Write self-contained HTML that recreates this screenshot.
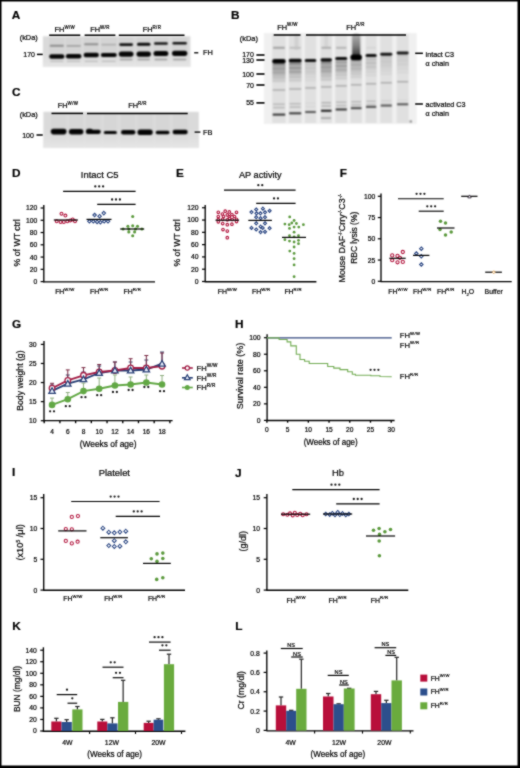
<!DOCTYPE html>
<html><head><meta charset="utf-8"><style>
html,body{margin:0;padding:0;background:#fff;}
svg{display:block;font-family:"Liberation Sans",sans-serif;}
text{stroke:#000;stroke-width:0.2px;}
</style></head><body>
<svg width="520" height="768" viewBox="0 0 520 768">
<defs>
<filter id="bg" color-interpolation-filters="sRGB" filterUnits="userSpaceOnUse" x="0" y="0" width="520" height="160"><feConvolveMatrix order="3" kernelMatrix="1 2 1 2 4 2 1 2 1" divisor="16" edgeMode="duplicate"/></filter>
<filter id="soft" color-interpolation-filters="sRGB" filterUnits="userSpaceOnUse" x="0" y="0" width="520" height="768"><feConvolveMatrix order="3" kernelMatrix="1 2 1 2 12 2 1 2 1" divisor="24" edgeMode="duplicate"/></filter>
<filter id="bgB" color-interpolation-filters="sRGB" filterUnits="userSpaceOnUse" x="0" y="0" width="520" height="160"><feConvolveMatrix order="3" kernelMatrix="1 2 1 2 4 2 1 2 1" divisor="16" edgeMode="duplicate"/></filter>
<filter id="b1" x="-20%" y="-50%" width="140%" height="200%"><feGaussianBlur stdDeviation="0.7"/></filter>
<filter id="b2" x="-20%" y="-50%" width="140%" height="200%"><feGaussianBlur stdDeviation="1.2"/></filter>
<filter id="b3" x="-50%" y="-50%" width="200%" height="200%"><feGaussianBlur stdDeviation="2"/></filter>
<linearGradient id="smg" x1="0" y1="0" x2="0" y2="1"><stop offset="0" stop-color="#b0b0b0"/><stop offset="0.5" stop-color="#808080"/><stop offset="1" stop-color="#303030"/></linearGradient>
<linearGradient id="lg1" x1="0" y1="0" x2="0" y2="1"><stop offset="0" stop-color="#e2e2e2" stop-opacity="0"/><stop offset="1" stop-color="#e6e6e6" stop-opacity="1"/></linearGradient>
</defs>
<g filter="url(#soft)">
<rect width="520" height="768" fill="#fff"/>
<rect x="0.75" y="0.75" width="517.5" height="765.5" fill="none" stroke="#000" stroke-width="1.5"/>
<rect x="518" y="0" width="2" height="768" fill="#000"/>
<rect x="0" y="766" width="520" height="2" fill="#000"/>
<text transform="translate(11.70,18.90) scale(1,1.0)" font-size="11.8" text-anchor="start" font-weight="bold" fill="#000" >A</text>
<text transform="translate(231.00,19.10) scale(1,1.0)" font-size="11.8" text-anchor="start" font-weight="bold" fill="#000" >B</text>
<text transform="translate(12.00,95.50) scale(1,1.0)" font-size="11.8" text-anchor="start" font-weight="bold" fill="#000" >C</text>
<text transform="translate(12.00,177.30) scale(1,1.0)" font-size="11.8" text-anchor="start" font-weight="bold" fill="#000" >D</text>
<text transform="translate(176.10,176.90) scale(1,1.0)" font-size="11.8" text-anchor="start" font-weight="bold" fill="#000" >E</text>
<text transform="translate(339.80,176.80) scale(1,1.0)" font-size="11.8" text-anchor="start" font-weight="bold" fill="#000" >F</text>
<text transform="translate(12.10,327.80) scale(1,1.0)" font-size="11.8" text-anchor="start" font-weight="bold" fill="#000" >G</text>
<text transform="translate(235.10,327.80) scale(1,1.0)" font-size="11.8" text-anchor="start" font-weight="bold" fill="#000" >H</text>
<text transform="translate(12.00,476.40) scale(1,1.0)" font-size="11.8" text-anchor="start" font-weight="bold" fill="#000" >I</text>
<text transform="translate(234.90,476.50) scale(1,1.0)" font-size="11.8" text-anchor="start" font-weight="bold" fill="#000" >J</text>
<text transform="translate(12.20,629.70) scale(1,1.0)" font-size="11.8" text-anchor="start" font-weight="bold" fill="#000" >K</text>
<text transform="translate(235.20,629.70) scale(1,1.0)" font-size="11.8" text-anchor="start" font-weight="bold" fill="#000" >L</text>
<g filter="url(#bg)">
<rect x="42.90" y="36.30" width="147.50" height="30.70" fill="#dadada" />
<rect x="49.20" y="37.00" width="15.20" height="29.50" fill="#d4d4d4" />
<rect x="65.90" y="37.00" width="15.50" height="29.50" fill="#d4d4d4" />
<rect x="83.60" y="37.00" width="15.30" height="29.50" fill="#d4d4d4" />
<rect x="100.80" y="37.00" width="16.00" height="29.50" fill="#d4d4d4" />
<rect x="118.80" y="37.00" width="14.70" height="29.50" fill="#d4d4d4" />
<rect x="136.50" y="37.00" width="14.40" height="29.50" fill="#d4d4d4" />
<rect x="153.50" y="37.00" width="14.80" height="29.50" fill="#d4d4d4" />
<rect x="172.00" y="37.00" width="15.30" height="29.50" fill="#d4d4d4" />
<rect x="42.9" y="50" width="147.5" height="17" fill="url(#lg1)"/>
<rect x="49.70" y="44.80" width="14.20" height="2.00" rx="1.00" fill="#8c8c8c"/>
<rect x="66.40" y="44.90" width="14.50" height="1.80" rx="0.90" fill="#a2a2a2"/>
<rect x="84.10" y="43.30" width="14.30" height="2.00" rx="1.00" fill="#8e8e8e"/>
<rect x="101.30" y="43.70" width="15.00" height="1.80" rx="0.90" fill="#b0b0b0"/>
<rect x="119.30" y="43.30" width="13.70" height="2.60" rx="1.30" fill="#101010"/>
<rect x="137.00" y="42.70" width="13.40" height="3.00" rx="1.50" fill="#0a0a0a"/>
<rect x="154.00" y="42.25" width="13.80" height="2.50" rx="1.25" fill="#141414"/>
<rect x="172.50" y="41.95" width="14.30" height="2.50" rx="1.25" fill="#121212"/>
<rect x="49.20" y="54.20" width="15.20" height="4.60" rx="2.30" fill="#040404"/>
<rect x="65.90" y="54.10" width="15.50" height="4.40" rx="2.20" fill="#040404"/>
<rect x="83.60" y="52.70" width="15.30" height="4.60" rx="2.30" fill="#040404"/>
<rect x="100.80" y="52.90" width="16.00" height="4.20" rx="2.10" fill="#040404"/>
<rect x="118.80" y="51.40" width="14.70" height="5.40" rx="2.70" fill="#040404"/>
<rect x="136.50" y="51.40" width="14.40" height="5.40" rx="2.70" fill="#040404"/>
<rect x="153.50" y="51.10" width="14.80" height="5.00" rx="2.50" fill="#040404"/>
<rect x="172.00" y="50.70" width="15.30" height="5.20" rx="2.60" fill="#040404"/>
<rect x="50.20" y="60.70" width="13.20" height="1.20" rx="0.60" fill="#bdbdbd"/>
<rect x="66.90" y="60.70" width="13.50" height="1.20" rx="0.60" fill="#bdbdbd"/>
<rect x="84.60" y="60.70" width="13.30" height="1.20" rx="0.60" fill="#bdbdbd"/>
<rect x="101.80" y="60.70" width="14.00" height="1.20" rx="0.60" fill="#bdbdbd"/>
<rect x="119.80" y="58.85" width="12.70" height="1.50" rx="0.75" fill="#9a9a9a"/>
<rect x="137.50" y="58.85" width="12.40" height="1.50" rx="0.75" fill="#9a9a9a"/>
<rect x="154.50" y="58.85" width="12.80" height="1.50" rx="0.75" fill="#9a9a9a"/>
<rect x="173.00" y="58.85" width="13.30" height="1.50" rx="0.75" fill="#9a9a9a"/>
</g>
<text transform="translate(64.80,32.16) scale(1,1.03)" font-size="7.4" text-anchor="middle">FH<tspan font-size="4.44" dy="-3.33" letter-spacing="0.35">W/W</tspan></text>
<line x1="49.20" y1="35.20" x2="80.30" y2="35.20" stroke="#000" stroke-width="1.5" />
<text transform="translate(100.00,32.16) scale(1,1.03)" font-size="7.4" text-anchor="middle">FH<tspan font-size="4.44" dy="-3.33" letter-spacing="0.35">W/R</tspan></text>
<line x1="84.60" y1="35.20" x2="115.40" y2="35.20" stroke="#000" stroke-width="1.5" />
<text transform="translate(152.00,32.16) scale(1,1.03)" font-size="7.4" text-anchor="middle">FH<tspan font-size="4.44" dy="-3.33" letter-spacing="0.35">R/R</tspan></text>
<line x1="118.80" y1="35.20" x2="184.50" y2="35.20" stroke="#000" stroke-width="1.5" />
<text transform="translate(19.70,40.06) scale(1,1.03)" font-size="7.4" text-anchor="start" fill="#000" >(kDa)</text>
<text transform="translate(35.00,57.12) scale(1,1.03)" font-size="7.0" text-anchor="end" fill="#000" >170</text>
<line x1="36.90" y1="54.40" x2="42.70" y2="54.40" stroke="#000" stroke-width="1.5" />
<line x1="194.20" y1="52.80" x2="198.30" y2="52.80" stroke="#000" stroke-width="1.3" />
<text transform="translate(203.00,55.46) scale(1,1.03)" font-size="7.4" text-anchor="start" fill="#000" >FH</text>
<g filter="url(#bg)">
<rect x="43.40" y="111.80" width="155.40" height="36.00" fill="#dadada" />
<rect x="50.80" y="113.00" width="15.70" height="34.00" fill="#d6d6d6" />
<rect x="68.90" y="113.00" width="14.50" height="34.00" fill="#d6d6d6" />
<rect x="85.80" y="113.00" width="15.00" height="34.00" fill="#d6d6d6" />
<rect x="103.80" y="113.00" width="13.10" height="34.00" fill="#d6d6d6" />
<rect x="121.00" y="113.00" width="14.40" height="34.00" fill="#d6d6d6" />
<rect x="137.50" y="113.00" width="15.20" height="34.00" fill="#d6d6d6" />
<rect x="155.70" y="113.00" width="13.80" height="34.00" fill="#d6d6d6" />
<rect x="172.60" y="113.00" width="15.10" height="34.00" fill="#d6d6d6" />
<rect x="43.4" y="128" width="155.4" height="20" fill="url(#lg1)"/>
<rect x="50.80" y="128.80" width="15.70" height="5.60" rx="2.80" fill="#030303"/>
<rect x="68.90" y="129.00" width="14.50" height="5.40" rx="2.70" fill="#030303"/>
<rect x="85.80" y="129.70" width="15.00" height="4.20" rx="2.10" fill="#030303"/>
<rect x="103.80" y="130.90" width="13.10" height="3.20" rx="1.60" fill="#030303"/>
<rect x="121.00" y="130.00" width="14.40" height="4.60" rx="2.30" fill="#030303"/>
<rect x="137.50" y="129.50" width="15.20" height="5.60" rx="2.80" fill="#030303"/>
<rect x="155.70" y="130.70" width="13.80" height="3.60" rx="1.80" fill="#030303"/>
<rect x="172.60" y="129.80" width="15.10" height="4.40" rx="2.20" fill="#030303"/>
<rect x="86.00" y="128.80" width="7.00" height="5.00" rx="2.50" fill="#030303"/>
</g>
<text transform="translate(68.00,108.16) scale(1,1.03)" font-size="7.4" text-anchor="middle">FH<tspan font-size="4.44" dy="-3.33" letter-spacing="0.35">W/W</tspan></text>
<line x1="51.50" y1="113.40" x2="83.00" y2="113.40" stroke="#000" stroke-width="1.5" />
<text transform="translate(137.50,108.16) scale(1,1.03)" font-size="7.4" text-anchor="middle">FH<tspan font-size="4.44" dy="-3.33" letter-spacing="0.35">R/R</tspan></text>
<line x1="87.00" y1="113.50" x2="187.70" y2="113.50" stroke="#000" stroke-width="1.5" />
<text transform="translate(19.70,117.06) scale(1,1.03)" font-size="7.4" text-anchor="start" fill="#000" >(kDa)</text>
<text transform="translate(33.80,137.52) scale(1,1.03)" font-size="7.0" text-anchor="end" fill="#000" >100</text>
<line x1="36.50" y1="135.00" x2="42.70" y2="135.00" stroke="#000" stroke-width="1.5" />
<line x1="194.60" y1="132.10" x2="200.40" y2="132.10" stroke="#000" stroke-width="1.3" />
<text transform="translate(203.00,134.76) scale(1,1.03)" font-size="7.4" text-anchor="start" fill="#000" >FB</text>
<g filter="url(#bgB)">
<rect x="263.80" y="33.00" width="152.80" height="91.00" fill="#f0f0f0" />
<rect x="272.20" y="34.00" width="13.50" height="89.00" fill="#e0e0e0" />
<rect x="288.70" y="34.00" width="13.00" height="89.00" fill="#e0e0e0" />
<rect x="304.70" y="34.00" width="11.60" height="89.00" fill="#e0e0e0" />
<rect x="320.50" y="34.00" width="11.50" height="89.00" fill="#e0e0e0" />
<rect x="335.20" y="34.00" width="12.10" height="89.00" fill="#e0e0e0" />
<rect x="350.40" y="34.00" width="11.60" height="89.00" fill="#e0e0e0" />
<rect x="365.50" y="34.00" width="11.20" height="89.00" fill="#e0e0e0" />
<rect x="380.20" y="34.00" width="12.10" height="89.00" fill="#e0e0e0" />
<rect x="396.60" y="34.00" width="12.10" height="89.00" fill="#e0e0e0" />
<rect x="272.50" y="63.40" width="12.90" height="2.20" fill="rgb(137,137,137)" />
<rect x="272.50" y="65.80" width="12.90" height="1.60" fill="rgb(159,159,159)" />
<rect x="272.50" y="67.60" width="12.90" height="2.00" fill="rgb(142,142,142)" />
<rect x="272.50" y="69.80" width="12.90" height="1.60" fill="rgb(163,163,163)" />
<rect x="272.50" y="71.60" width="12.90" height="2.00" fill="rgb(155,155,155)" />
<rect x="272.50" y="73.80" width="12.90" height="2.00" fill="rgb(180,180,180)" />
<rect x="272.50" y="76.20" width="12.90" height="2.50" fill="rgb(189,189,189)" />
<rect x="272.50" y="79.20" width="12.90" height="3.00" fill="rgb(202,202,202)" />
<rect x="289.00" y="62.90" width="12.40" height="2.20" fill="rgb(143,143,143)" />
<rect x="289.00" y="65.30" width="12.40" height="1.60" fill="rgb(163,163,163)" />
<rect x="289.00" y="67.10" width="12.40" height="2.00" fill="rgb(147,147,147)" />
<rect x="289.00" y="69.30" width="12.40" height="1.60" fill="rgb(167,167,167)" />
<rect x="289.00" y="71.10" width="12.40" height="2.00" fill="rgb(159,159,159)" />
<rect x="289.00" y="73.30" width="12.40" height="2.00" fill="rgb(183,183,183)" />
<rect x="289.00" y="75.70" width="12.40" height="2.50" fill="rgb(191,191,191)" />
<rect x="289.00" y="78.70" width="12.40" height="3.00" fill="rgb(203,203,203)" />
<rect x="305.00" y="62.60" width="11.00" height="2.20" fill="rgb(195,195,195)" />
<rect x="305.00" y="65.00" width="11.00" height="1.60" fill="rgb(202,202,202)" />
<rect x="305.00" y="66.80" width="11.00" height="2.00" fill="rgb(196,196,196)" />
<rect x="305.00" y="69.00" width="11.00" height="1.60" fill="rgb(203,203,203)" />
<rect x="305.00" y="70.80" width="11.00" height="2.00" fill="rgb(201,201,201)" />
<rect x="305.00" y="73.00" width="11.00" height="2.00" fill="rgb(209,209,209)" />
<rect x="305.00" y="75.40" width="11.00" height="2.50" fill="rgb(212,212,212)" />
<rect x="305.00" y="78.40" width="11.00" height="3.00" fill="rgb(216,216,216)" />
<rect x="320.80" y="62.20" width="10.90" height="2.20" fill="rgb(137,137,137)" />
<rect x="320.80" y="64.60" width="10.90" height="1.60" fill="rgb(159,159,159)" />
<rect x="320.80" y="66.40" width="10.90" height="2.00" fill="rgb(142,142,142)" />
<rect x="320.80" y="68.60" width="10.90" height="1.60" fill="rgb(163,163,163)" />
<rect x="320.80" y="70.40" width="10.90" height="2.00" fill="rgb(155,155,155)" />
<rect x="320.80" y="72.60" width="10.90" height="2.00" fill="rgb(180,180,180)" />
<rect x="320.80" y="75.00" width="10.90" height="2.50" fill="rgb(189,189,189)" />
<rect x="320.80" y="78.00" width="10.90" height="3.00" fill="rgb(202,202,202)" />
<rect x="335.50" y="60.70" width="11.50" height="2.20" fill="rgb(155,155,155)" />
<rect x="335.50" y="63.10" width="11.50" height="1.60" fill="rgb(172,172,172)" />
<rect x="335.50" y="64.90" width="11.50" height="2.00" fill="rgb(158,158,158)" />
<rect x="335.50" y="67.10" width="11.50" height="1.60" fill="rgb(175,175,175)" />
<rect x="335.50" y="68.90" width="11.50" height="2.00" fill="rgb(168,168,168)" />
<rect x="335.50" y="71.10" width="11.50" height="2.00" fill="rgb(189,189,189)" />
<rect x="335.50" y="73.50" width="11.50" height="2.50" fill="rgb(196,196,196)" />
<rect x="335.50" y="76.50" width="11.50" height="3.00" fill="rgb(206,206,206)" />
<rect x="350.70" y="59.50" width="11.00" height="2.20" fill="rgb(160,160,160)" />
<rect x="350.70" y="61.90" width="11.00" height="1.60" fill="rgb(176,176,176)" />
<rect x="350.70" y="63.70" width="11.00" height="2.00" fill="rgb(163,163,163)" />
<rect x="350.70" y="65.90" width="11.00" height="1.60" fill="rgb(179,179,179)" />
<rect x="350.70" y="67.70" width="11.00" height="2.00" fill="rgb(173,173,173)" />
<rect x="350.70" y="69.90" width="11.00" height="2.00" fill="rgb(192,192,192)" />
<rect x="350.70" y="72.30" width="11.00" height="2.50" fill="rgb(198,198,198)" />
<rect x="350.70" y="75.30" width="11.00" height="3.00" fill="rgb(208,208,208)" />
<rect x="365.80" y="57.80" width="10.60" height="2.20" fill="rgb(189,189,189)" />
<rect x="365.80" y="60.20" width="10.60" height="1.60" fill="rgb(198,198,198)" />
<rect x="365.80" y="62.00" width="10.60" height="2.00" fill="rgb(191,191,191)" />
<rect x="365.80" y="64.20" width="10.60" height="1.60" fill="rgb(199,199,199)" />
<rect x="365.80" y="66.00" width="10.60" height="2.00" fill="rgb(196,196,196)" />
<rect x="365.80" y="68.20" width="10.60" height="2.00" fill="rgb(206,206,206)" />
<rect x="365.80" y="70.60" width="10.60" height="2.50" fill="rgb(210,210,210)" />
<rect x="365.80" y="73.60" width="10.60" height="3.00" fill="rgb(215,215,215)" />
<rect x="380.50" y="56.40" width="11.50" height="2.20" fill="rgb(195,195,195)" />
<rect x="380.50" y="58.80" width="11.50" height="1.60" fill="rgb(202,202,202)" />
<rect x="380.50" y="60.60" width="11.50" height="2.00" fill="rgb(196,196,196)" />
<rect x="380.50" y="62.80" width="11.50" height="1.60" fill="rgb(203,203,203)" />
<rect x="380.50" y="64.60" width="11.50" height="2.00" fill="rgb(201,201,201)" />
<rect x="380.50" y="66.80" width="11.50" height="2.00" fill="rgb(209,209,209)" />
<rect x="380.50" y="69.20" width="11.50" height="2.50" fill="rgb(212,212,212)" />
<rect x="380.50" y="72.20" width="11.50" height="3.00" fill="rgb(216,216,216)" />
<rect x="396.90" y="55.20" width="11.50" height="2.20" fill="rgb(201,201,201)" />
<rect x="396.90" y="57.60" width="11.50" height="1.60" fill="rgb(206,206,206)" />
<rect x="396.90" y="59.40" width="11.50" height="2.00" fill="rgb(202,202,202)" />
<rect x="396.90" y="61.60" width="11.50" height="1.60" fill="rgb(207,207,207)" />
<rect x="396.90" y="63.40" width="11.50" height="2.00" fill="rgb(205,205,205)" />
<rect x="396.90" y="65.60" width="11.50" height="2.00" fill="rgb(212,212,212)" />
<rect x="396.90" y="68.00" width="11.50" height="2.50" fill="rgb(214,214,214)" />
<rect x="396.90" y="71.00" width="11.50" height="3.00" fill="rgb(218,218,218)" />
<rect x="352.2" y="33.5" width="8" height="24" rx="3" fill="url(#smg)"/>
<rect x="294.50" y="34.00" width="4.00" height="16.00" fill="#d0d0d0" />
<rect x="324.20" y="34.00" width="4.00" height="13.00" fill="#d4d4d4" />
<rect x="273.20" y="46.80" width="11.50" height="2.00" fill="rgb(162,162,162)" />
<rect x="289.70" y="46.80" width="11.00" height="2.00" fill="rgb(192,192,192)" />
<rect x="321.50" y="46.80" width="9.50" height="2.00" fill="rgb(174,174,174)" />
<rect x="336.20" y="46.80" width="10.10" height="2.00" fill="rgb(180,180,180)" />
<rect x="366.50" y="46.80" width="9.20" height="2.00" fill="rgb(213,213,213)" />
<rect x="272.20" y="58.90" width="13.50" height="4.60" rx="2.30" fill="#000"/>
<rect x="288.70" y="58.80" width="13.00" height="3.80" rx="1.90" fill="#080808"/>
<rect x="304.70" y="58.90" width="11.60" height="3.00" rx="1.50" fill="#101010"/>
<rect x="320.50" y="58.30" width="11.50" height="3.40" rx="1.70" fill="#0c0c0c"/>
<rect x="335.20" y="56.90" width="12.10" height="3.20" rx="1.60" fill="#0c0c0c"/>
<rect x="350.40" y="54.40" width="11.60" height="5.80" rx="2.90" fill="#000"/>
<rect x="365.50" y="54.10" width="11.20" height="3.00" rx="1.50" fill="#101010"/>
<rect x="380.20" y="52.75" width="12.10" height="2.90" rx="1.45" fill="#141414"/>
<rect x="396.60" y="51.60" width="12.10" height="2.80" rx="1.40" fill="#181818"/>
<rect x="272.70" y="89.30" width="12.50" height="1.40" fill="#a8a8a8" />
<rect x="289.20" y="88.26" width="12.00" height="1.40" fill="#a8a8a8" />
<rect x="305.20" y="87.22" width="10.60" height="1.40" fill="#a8a8a8" />
<rect x="321.00" y="86.19" width="10.50" height="1.40" fill="#a8a8a8" />
<rect x="335.70" y="85.15" width="11.10" height="1.40" fill="#a8a8a8" />
<rect x="350.90" y="84.11" width="10.60" height="1.40" fill="#a8a8a8" />
<rect x="366.00" y="83.08" width="10.20" height="1.40" fill="#a8a8a8" />
<rect x="380.70" y="82.04" width="11.10" height="1.40" fill="#a8a8a8" />
<rect x="397.10" y="81.00" width="11.10" height="1.40" fill="#a8a8a8" />
<rect x="273.20" y="103.50" width="11.50" height="1.50" fill="rgb(183,183,183)" />
<rect x="273.20" y="106.80" width="11.50" height="1.50" fill="rgb(183,183,183)" />
<rect x="289.70" y="103.00" width="11.00" height="1.50" fill="rgb(183,183,183)" />
<rect x="289.70" y="106.30" width="11.00" height="1.50" fill="rgb(183,183,183)" />
<rect x="305.70" y="102.50" width="9.60" height="1.50" fill="rgb(215,215,215)" />
<rect x="305.70" y="105.80" width="9.60" height="1.50" fill="rgb(215,215,215)" />
<rect x="321.50" y="102.00" width="9.50" height="1.50" fill="rgb(177,177,177)" />
<rect x="321.50" y="105.30" width="9.50" height="1.50" fill="rgb(177,177,177)" />
<rect x="336.20" y="101.50" width="10.10" height="1.50" fill="rgb(183,183,183)" />
<rect x="336.20" y="104.80" width="10.10" height="1.50" fill="rgb(183,183,183)" />
<rect x="351.40" y="101.00" width="9.60" height="1.50" fill="rgb(183,183,183)" />
<rect x="351.40" y="104.30" width="9.60" height="1.50" fill="rgb(183,183,183)" />
<rect x="366.50" y="100.50" width="9.20" height="1.50" fill="rgb(189,189,189)" />
<rect x="366.50" y="103.80" width="9.20" height="1.50" fill="rgb(189,189,189)" />
<rect x="381.20" y="100.00" width="10.10" height="1.50" fill="rgb(207,207,207)" />
<rect x="381.20" y="103.30" width="10.10" height="1.50" fill="rgb(207,207,207)" />
<rect x="397.60" y="99.50" width="10.10" height="1.50" fill="rgb(215,215,215)" />
<rect x="397.60" y="102.80" width="10.10" height="1.50" fill="rgb(215,215,215)" />
<rect x="272.70" y="113.65" width="12.50" height="1.90" fill="#2a2a2a" />
<rect x="289.20" y="112.36" width="12.00" height="1.90" fill="#303030" />
<rect x="305.20" y="111.07" width="10.60" height="1.90" fill="#505050" />
<rect x="321.00" y="109.79" width="10.50" height="1.90" fill="#101010" />
<rect x="335.70" y="108.50" width="11.10" height="1.90" fill="#2a2a2a" />
<rect x="350.90" y="107.21" width="10.60" height="1.90" fill="#404040" />
<rect x="366.00" y="105.92" width="10.20" height="1.90" fill="#484848" />
<rect x="380.70" y="104.64" width="11.10" height="1.90" fill="#505050" />
<rect x="397.10" y="103.35" width="11.10" height="1.90" fill="#505050" />
<rect x="321.00" y="117.30" width="10.00" height="1.50" fill="#a0a0a0" />
<rect x="409.50" y="120.50" width="2.50" height="2.00" fill="#888" />
</g>
<text transform="translate(287.50,29.66) scale(1,1.03)" font-size="7.4" text-anchor="middle">FH<tspan font-size="4.44" dy="-3.33" letter-spacing="0.35">W/W</tspan></text>
<line x1="273.70" y1="35.00" x2="300.50" y2="35.00" stroke="#000" stroke-width="1.5" />
<text transform="translate(355.50,29.66) scale(1,1.03)" font-size="7.4" text-anchor="middle">FH<tspan font-size="4.44" dy="-3.33" letter-spacing="0.35">R/R</tspan></text>
<line x1="306.00" y1="35.00" x2="406.00" y2="35.00" stroke="#000" stroke-width="1.5" />
<text transform="translate(239.80,41.26) scale(1,1.03)" font-size="7.4" text-anchor="start" fill="#000" >(kDa)</text>
<text transform="translate(253.90,56.92) scale(1,1.03)" font-size="7.0" text-anchor="end" fill="#000" >170</text>
<line x1="256.40" y1="55.00" x2="264.50" y2="55.00" stroke="#000" stroke-width="1.6" />
<text transform="translate(253.90,62.82) scale(1,1.03)" font-size="7.0" text-anchor="end" fill="#000" >130</text>
<line x1="256.40" y1="60.00" x2="264.50" y2="60.00" stroke="#000" stroke-width="1.6" />
<text transform="translate(253.90,76.52) scale(1,1.03)" font-size="7.0" text-anchor="end" fill="#000" >100</text>
<line x1="256.40" y1="74.00" x2="264.50" y2="74.00" stroke="#000" stroke-width="1.6" />
<text transform="translate(253.90,87.52) scale(1,1.03)" font-size="7.0" text-anchor="end" fill="#000" >70</text>
<line x1="256.40" y1="85.00" x2="264.50" y2="85.00" stroke="#000" stroke-width="1.6" />
<text transform="translate(253.90,105.42) scale(1,1.03)" font-size="7.0" text-anchor="end" fill="#000" >55</text>
<line x1="256.40" y1="102.90" x2="264.50" y2="102.90" stroke="#000" stroke-width="1.6" />
<line x1="415.20" y1="53.30" x2="422.90" y2="53.30" stroke="#000" stroke-width="1.5" />
<text transform="translate(425.60,56.79) scale(1,1.03)" font-size="7.2" text-anchor="start" fill="#000" >intact C3</text>
<text transform="translate(425.60,66.09) scale(1,1.03)" font-size="7.2" text-anchor="start" fill="#000" >α chain</text>
<line x1="415.20" y1="104.00" x2="422.90" y2="104.00" stroke="#000" stroke-width="1.5" />
<text transform="translate(425.60,107.29) scale(1,1.03)" font-size="7.2" text-anchor="start" fill="#000" >activated C3</text>
<text transform="translate(425.60,116.19) scale(1,1.03)" font-size="7.2" text-anchor="start" fill="#000" >α chain</text>
<line x1="43.80" y1="205.00" x2="43.80" y2="282.20" stroke="#000" stroke-width="1.35" />
<line x1="40.60" y1="281.60" x2="43.80" y2="281.60" stroke="#000" stroke-width="1.215" />
<text transform="translate(37.40,284.05) scale(1,1.03)" font-size="6.8" text-anchor="end" fill="#000" >0</text>
<line x1="40.60" y1="269.33" x2="43.80" y2="269.33" stroke="#000" stroke-width="1.215" />
<text transform="translate(37.40,271.78) scale(1,1.03)" font-size="6.8" text-anchor="end" fill="#000" >20</text>
<line x1="40.60" y1="257.07" x2="43.80" y2="257.07" stroke="#000" stroke-width="1.215" />
<text transform="translate(37.40,259.51) scale(1,1.03)" font-size="6.8" text-anchor="end" fill="#000" >40</text>
<line x1="40.60" y1="244.80" x2="43.80" y2="244.80" stroke="#000" stroke-width="1.215" />
<text transform="translate(37.40,247.25) scale(1,1.03)" font-size="6.8" text-anchor="end" fill="#000" >60</text>
<line x1="40.60" y1="232.53" x2="43.80" y2="232.53" stroke="#000" stroke-width="1.215" />
<text transform="translate(37.40,234.98) scale(1,1.03)" font-size="6.8" text-anchor="end" fill="#000" >80</text>
<line x1="40.60" y1="220.27" x2="43.80" y2="220.27" stroke="#000" stroke-width="1.215" />
<text transform="translate(37.40,222.71) scale(1,1.03)" font-size="6.8" text-anchor="end" fill="#000" >100</text>
<line x1="40.60" y1="208.00" x2="43.80" y2="208.00" stroke="#000" stroke-width="1.215" />
<text transform="translate(37.40,210.45) scale(1,1.03)" font-size="6.8" text-anchor="end" fill="#000" >120</text>
<line x1="43.20" y1="281.80" x2="155.00" y2="281.80" stroke="#000" stroke-width="1.35" />
<text transform="translate(99.60,177.58) scale(1,1.03)" font-size="9.4" text-anchor="middle" fill="#000" >Intact C5</text>
<line x1="63.10" y1="191.30" x2="135.60" y2="191.30" stroke="#000" stroke-width="1.15" />
<circle cx="95.30" cy="186.40" r="1.15" fill="#1a1a1a"/>
<circle cx="99.20" cy="186.40" r="1.15" fill="#1a1a1a"/>
<circle cx="103.10" cy="186.40" r="1.15" fill="#1a1a1a"/>
<line x1="97.20" y1="204.40" x2="135.60" y2="204.40" stroke="#000" stroke-width="1.15" />
<circle cx="112.10" cy="199.50" r="1.15" fill="#1a1a1a"/>
<circle cx="116.00" cy="199.50" r="1.15" fill="#1a1a1a"/>
<circle cx="119.90" cy="199.50" r="1.15" fill="#1a1a1a"/>
<text transform="translate(16.70,242.80) rotate(-90) scale(1,1.03)" x="0" y="3.13" font-size="8.7" text-anchor="middle" fill="#000">% of WT ctrl</text>
<text transform="translate(64.90,294.48) scale(1,1.03)" font-size="6.9" text-anchor="middle">FH<tspan font-size="4.28" dy="-3.11" letter-spacing="0.35">W/W</tspan></text>
<text transform="translate(99.20,294.48) scale(1,1.03)" font-size="6.9" text-anchor="middle">FH<tspan font-size="4.28" dy="-3.11" letter-spacing="0.35">W/R</tspan></text>
<text transform="translate(132.40,294.48) scale(1,1.03)" font-size="6.9" text-anchor="middle">FH<tspan font-size="4.28" dy="-3.11" letter-spacing="0.35">R/R</tspan></text>
<circle cx="61.50" cy="213.70" r="1.45" fill="#fff" stroke="#b3173f" stroke-width="1.1"/>
<circle cx="65.40" cy="215.60" r="1.45" fill="#fff" stroke="#b3173f" stroke-width="1.1"/>
<circle cx="56.70" cy="221.30" r="1.45" fill="#fff" stroke="#b3173f" stroke-width="1.1"/>
<circle cx="60.60" cy="221.90" r="1.45" fill="#fff" stroke="#b3173f" stroke-width="1.1"/>
<circle cx="63.80" cy="221.90" r="1.45" fill="#fff" stroke="#b3173f" stroke-width="1.1"/>
<circle cx="67.30" cy="221.30" r="1.45" fill="#fff" stroke="#b3173f" stroke-width="1.1"/>
<circle cx="70.20" cy="220.40" r="1.45" fill="#fff" stroke="#b3173f" stroke-width="1.1"/>
<circle cx="72.70" cy="219.40" r="1.45" fill="#fff" stroke="#b3173f" stroke-width="1.1"/>
<circle cx="75.00" cy="221.30" r="1.45" fill="#fff" stroke="#b3173f" stroke-width="1.1"/>
<line x1="53.80" y1="220.00" x2="77.90" y2="220.00" stroke="#000" stroke-width="1.2" />
<path d="M94.60 213.25L96.35 215.00L94.60 216.75L92.85 215.00Z" fill="#fff" stroke="#2f4a85" stroke-width="1.1"/>
<path d="M99.60 214.45L101.35 216.20L99.60 217.95L97.85 216.20Z" fill="#fff" stroke="#2f4a85" stroke-width="1.1"/>
<path d="M103.80 211.35L105.55 213.10L103.80 214.85L102.05 213.10Z" fill="#fff" stroke="#2f4a85" stroke-width="1.1"/>
<path d="M89.40 219.55L91.15 221.30L89.40 223.05L87.65 221.30Z" fill="#fff" stroke="#2f4a85" stroke-width="1.1"/>
<path d="M93.30 219.55L95.05 221.30L93.30 223.05L91.55 221.30Z" fill="#fff" stroke="#2f4a85" stroke-width="1.1"/>
<path d="M97.10 220.15L98.85 221.90L97.10 223.65L95.35 221.90Z" fill="#fff" stroke="#2f4a85" stroke-width="1.1"/>
<path d="M100.40 220.55L102.15 222.30L100.40 224.05L98.65 222.30Z" fill="#fff" stroke="#2f4a85" stroke-width="1.1"/>
<path d="M104.20 219.55L105.95 221.30L104.20 223.05L102.45 221.30Z" fill="#fff" stroke="#2f4a85" stroke-width="1.1"/>
<path d="M108.00 219.55L109.75 221.30L108.00 223.05L106.25 221.30Z" fill="#fff" stroke="#2f4a85" stroke-width="1.1"/>
<line x1="86.50" y1="219.40" x2="111.50" y2="219.40" stroke="#000" stroke-width="1.2" />
<circle cx="132.70" cy="216.50" r="1.55" fill="#5c9a3e"/>
<circle cx="127.90" cy="226.20" r="1.55" fill="#5c9a3e"/>
<circle cx="132.70" cy="225.80" r="1.55" fill="#5c9a3e"/>
<circle cx="137.50" cy="226.20" r="1.55" fill="#5c9a3e"/>
<circle cx="123.10" cy="229.00" r="1.55" fill="#5c9a3e"/>
<circle cx="128.80" cy="229.00" r="1.55" fill="#5c9a3e"/>
<circle cx="135.60" cy="229.00" r="1.55" fill="#5c9a3e"/>
<circle cx="141.90" cy="229.00" r="1.55" fill="#5c9a3e"/>
<circle cx="128.80" cy="231.90" r="1.55" fill="#5c9a3e"/>
<circle cx="134.60" cy="231.90" r="1.55" fill="#5c9a3e"/>
<circle cx="132.70" cy="235.80" r="1.55" fill="#5c9a3e"/>
<line x1="120.20" y1="229.00" x2="144.20" y2="229.00" stroke="#000" stroke-width="1.2" />
<line x1="205.20" y1="205.00" x2="205.20" y2="282.10" stroke="#000" stroke-width="1.35" />
<line x1="202.00" y1="281.50" x2="205.20" y2="281.50" stroke="#000" stroke-width="1.215" />
<text transform="translate(198.50,283.95) scale(1,1.03)" font-size="6.8" text-anchor="end" fill="#000" >0</text>
<line x1="202.00" y1="269.21" x2="205.20" y2="269.21" stroke="#000" stroke-width="1.215" />
<text transform="translate(198.50,271.66) scale(1,1.03)" font-size="6.8" text-anchor="end" fill="#000" >20</text>
<line x1="202.00" y1="256.92" x2="205.20" y2="256.92" stroke="#000" stroke-width="1.215" />
<text transform="translate(198.50,259.36) scale(1,1.03)" font-size="6.8" text-anchor="end" fill="#000" >40</text>
<line x1="202.00" y1="244.62" x2="205.20" y2="244.62" stroke="#000" stroke-width="1.215" />
<text transform="translate(198.50,247.07) scale(1,1.03)" font-size="6.8" text-anchor="end" fill="#000" >60</text>
<line x1="202.00" y1="232.33" x2="205.20" y2="232.33" stroke="#000" stroke-width="1.215" />
<text transform="translate(198.50,234.78) scale(1,1.03)" font-size="6.8" text-anchor="end" fill="#000" >80</text>
<line x1="202.00" y1="220.04" x2="205.20" y2="220.04" stroke="#000" stroke-width="1.215" />
<text transform="translate(198.50,222.49) scale(1,1.03)" font-size="6.8" text-anchor="end" fill="#000" >100</text>
<line x1="202.00" y1="207.75" x2="205.20" y2="207.75" stroke="#000" stroke-width="1.215" />
<text transform="translate(198.50,210.20) scale(1,1.03)" font-size="6.8" text-anchor="end" fill="#000" >120</text>
<line x1="204.60" y1="281.70" x2="316.40" y2="281.70" stroke="#000" stroke-width="1.35" />
<text transform="translate(260.30,178.01) scale(1,1.03)" font-size="9.2" text-anchor="middle" fill="#000" >AP activity</text>
<line x1="224.00" y1="190.10" x2="295.60" y2="190.10" stroke="#000" stroke-width="1.15" />
<circle cx="258.35" cy="185.20" r="1.15" fill="#1a1a1a"/>
<circle cx="262.25" cy="185.20" r="1.15" fill="#1a1a1a"/>
<line x1="256.20" y1="203.30" x2="295.60" y2="203.30" stroke="#000" stroke-width="1.15" />
<circle cx="274.05" cy="198.40" r="1.15" fill="#1a1a1a"/>
<circle cx="277.95" cy="198.40" r="1.15" fill="#1a1a1a"/>
<text transform="translate(176.80,243.00) rotate(-90) scale(1,1.03)" x="0" y="3.13" font-size="8.7" text-anchor="middle" fill="#000">% of WT ctrl</text>
<text transform="translate(227.50,294.38) scale(1,1.03)" font-size="6.9" text-anchor="middle">FH<tspan font-size="4.28" dy="-3.11" letter-spacing="0.35">W/W</tspan></text>
<text transform="translate(261.20,294.38) scale(1,1.03)" font-size="6.9" text-anchor="middle">FH<tspan font-size="4.28" dy="-3.11" letter-spacing="0.35">W/R</tspan></text>
<text transform="translate(293.20,294.38) scale(1,1.03)" font-size="6.9" text-anchor="middle">FH<tspan font-size="4.28" dy="-3.11" letter-spacing="0.35">R/R</tspan></text>
<circle cx="218.30" cy="212.30" r="1.3" fill="#fff" stroke="#b3173f" stroke-width="1.1"/>
<circle cx="225.20" cy="211.20" r="1.3" fill="#fff" stroke="#b3173f" stroke-width="1.1"/>
<circle cx="229.30" cy="211.90" r="1.3" fill="#fff" stroke="#b3173f" stroke-width="1.1"/>
<circle cx="236.50" cy="212.30" r="1.3" fill="#fff" stroke="#b3173f" stroke-width="1.1"/>
<circle cx="222.40" cy="214.10" r="1.3" fill="#fff" stroke="#b3173f" stroke-width="1.1"/>
<circle cx="227.30" cy="214.90" r="1.3" fill="#fff" stroke="#b3173f" stroke-width="1.1"/>
<circle cx="231.90" cy="214.60" r="1.3" fill="#fff" stroke="#b3173f" stroke-width="1.1"/>
<circle cx="218.30" cy="216.50" r="1.3" fill="#fff" stroke="#b3173f" stroke-width="1.1"/>
<circle cx="223.50" cy="216.50" r="1.3" fill="#fff" stroke="#b3173f" stroke-width="1.1"/>
<circle cx="229.30" cy="216.70" r="1.3" fill="#fff" stroke="#b3173f" stroke-width="1.1"/>
<circle cx="234.50" cy="216.50" r="1.3" fill="#fff" stroke="#b3173f" stroke-width="1.1"/>
<circle cx="218.30" cy="219.50" r="1.3" fill="#fff" stroke="#b3173f" stroke-width="1.1"/>
<circle cx="222.70" cy="219.30" r="1.3" fill="#fff" stroke="#b3173f" stroke-width="1.1"/>
<circle cx="227.30" cy="219.80" r="1.3" fill="#fff" stroke="#b3173f" stroke-width="1.1"/>
<circle cx="229.60" cy="218.40" r="1.3" fill="#fff" stroke="#b3173f" stroke-width="1.1"/>
<circle cx="232.20" cy="219.50" r="1.3" fill="#fff" stroke="#b3173f" stroke-width="1.1"/>
<circle cx="236.50" cy="219.30" r="1.3" fill="#fff" stroke="#b3173f" stroke-width="1.1"/>
<circle cx="218.30" cy="221.80" r="1.3" fill="#fff" stroke="#b3173f" stroke-width="1.1"/>
<circle cx="222.70" cy="223.60" r="1.3" fill="#fff" stroke="#b3173f" stroke-width="1.1"/>
<circle cx="227.30" cy="224.70" r="1.3" fill="#fff" stroke="#b3173f" stroke-width="1.1"/>
<circle cx="231.90" cy="224.20" r="1.3" fill="#fff" stroke="#b3173f" stroke-width="1.1"/>
<circle cx="236.50" cy="221.60" r="1.3" fill="#fff" stroke="#b3173f" stroke-width="1.1"/>
<circle cx="223.00" cy="229.60" r="1.3" fill="#fff" stroke="#b3173f" stroke-width="1.1"/>
<circle cx="227.30" cy="231.10" r="1.3" fill="#fff" stroke="#b3173f" stroke-width="1.1"/>
<circle cx="227.30" cy="237.70" r="1.3" fill="#fff" stroke="#b3173f" stroke-width="1.1"/>
<line x1="215.50" y1="220.20" x2="239.10" y2="220.20" stroke="#000" stroke-width="1.2" />
<path d="M251.50 210.55L253.05 212.10L251.50 213.65L249.95 212.10Z" fill="#fff" stroke="#2f4a85" stroke-width="1.1"/>
<path d="M256.20 207.95L257.75 209.50L256.20 211.05L254.65 209.50Z" fill="#fff" stroke="#2f4a85" stroke-width="1.1"/>
<path d="M262.90 207.15L264.45 208.70L262.90 210.25L261.35 208.70Z" fill="#fff" stroke="#2f4a85" stroke-width="1.1"/>
<path d="M269.60 209.25L271.15 210.80L269.60 212.35L268.05 210.80Z" fill="#fff" stroke="#2f4a85" stroke-width="1.1"/>
<path d="M256.50 211.75L258.05 213.30L256.50 214.85L254.95 213.30Z" fill="#fff" stroke="#2f4a85" stroke-width="1.1"/>
<path d="M260.40 211.75L261.95 213.30L260.40 214.85L258.85 213.30Z" fill="#fff" stroke="#2f4a85" stroke-width="1.1"/>
<path d="M265.00 210.75L266.55 212.30L265.00 213.85L263.45 212.30Z" fill="#fff" stroke="#2f4a85" stroke-width="1.1"/>
<path d="M256.20 215.65L257.75 217.20L256.20 218.75L254.65 217.20Z" fill="#fff" stroke="#2f4a85" stroke-width="1.1"/>
<path d="M260.60 216.65L262.15 218.20L260.60 219.75L259.05 218.20Z" fill="#fff" stroke="#2f4a85" stroke-width="1.1"/>
<path d="M265.00 215.65L266.55 217.20L265.00 218.75L263.45 217.20Z" fill="#fff" stroke="#2f4a85" stroke-width="1.1"/>
<path d="M256.20 221.75L257.75 223.30L256.20 224.85L254.65 223.30Z" fill="#fff" stroke="#2f4a85" stroke-width="1.1"/>
<path d="M265.00 221.75L266.55 223.30L265.00 224.85L263.45 223.30Z" fill="#fff" stroke="#2f4a85" stroke-width="1.1"/>
<path d="M251.50 226.35L253.05 227.90L251.50 229.45L249.95 227.90Z" fill="#fff" stroke="#2f4a85" stroke-width="1.1"/>
<path d="M256.20 227.95L257.75 229.50L256.20 231.05L254.65 229.50Z" fill="#fff" stroke="#2f4a85" stroke-width="1.1"/>
<path d="M260.60 225.15L262.15 226.70L260.60 228.25L259.05 226.70Z" fill="#fff" stroke="#2f4a85" stroke-width="1.1"/>
<path d="M262.70 226.35L264.25 227.90L262.70 229.45L261.15 227.90Z" fill="#fff" stroke="#2f4a85" stroke-width="1.1"/>
<path d="M269.60 226.65L271.15 228.20L269.60 229.75L268.05 228.20Z" fill="#fff" stroke="#2f4a85" stroke-width="1.1"/>
<path d="M260.60 230.55L262.15 232.10L260.60 233.65L259.05 232.10Z" fill="#fff" stroke="#2f4a85" stroke-width="1.1"/>
<path d="M265.00 230.25L266.55 231.80L265.00 233.35L263.45 231.80Z" fill="#fff" stroke="#2f4a85" stroke-width="1.1"/>
<line x1="248.30" y1="220.40" x2="271.90" y2="220.40" stroke="#000" stroke-width="1.2" />
<circle cx="289.70" cy="216.90" r="1.4" fill="#5c9a3e"/>
<circle cx="294.10" cy="220.50" r="1.4" fill="#5c9a3e"/>
<circle cx="284.90" cy="224.10" r="1.4" fill="#5c9a3e"/>
<circle cx="289.20" cy="224.70" r="1.4" fill="#5c9a3e"/>
<circle cx="291.80" cy="223.00" r="1.4" fill="#5c9a3e"/>
<circle cx="296.40" cy="223.50" r="1.4" fill="#5c9a3e"/>
<circle cx="303.40" cy="224.70" r="1.4" fill="#5c9a3e"/>
<circle cx="289.50" cy="228.40" r="1.4" fill="#5c9a3e"/>
<circle cx="294.10" cy="227.10" r="1.4" fill="#5c9a3e"/>
<circle cx="298.80" cy="227.10" r="1.4" fill="#5c9a3e"/>
<circle cx="294.10" cy="232.20" r="1.4" fill="#5c9a3e"/>
<circle cx="289.50" cy="235.70" r="1.4" fill="#5c9a3e"/>
<circle cx="298.50" cy="235.70" r="1.4" fill="#5c9a3e"/>
<circle cx="284.90" cy="239.70" r="1.4" fill="#5c9a3e"/>
<circle cx="294.10" cy="236.80" r="1.4" fill="#5c9a3e"/>
<circle cx="289.50" cy="241.10" r="1.4" fill="#5c9a3e"/>
<circle cx="294.10" cy="242.00" r="1.4" fill="#5c9a3e"/>
<circle cx="298.50" cy="240.30" r="1.4" fill="#5c9a3e"/>
<circle cx="298.50" cy="243.70" r="1.4" fill="#5c9a3e"/>
<circle cx="294.10" cy="247.00" r="1.4" fill="#5c9a3e"/>
<circle cx="289.80" cy="251.10" r="1.4" fill="#5c9a3e"/>
<circle cx="294.10" cy="253.40" r="1.4" fill="#5c9a3e"/>
<circle cx="294.10" cy="258.70" r="1.4" fill="#5c9a3e"/>
<circle cx="294.10" cy="264.90" r="1.4" fill="#5c9a3e"/>
<circle cx="294.10" cy="276.70" r="1.4" fill="#5c9a3e"/>
<line x1="282.00" y1="237.40" x2="306.00" y2="237.40" stroke="#000" stroke-width="1.2" />
<line x1="381.00" y1="193.50" x2="381.00" y2="281.90" stroke="#000" stroke-width="1.35" />
<line x1="377.80" y1="281.30" x2="381.00" y2="281.30" stroke="#000" stroke-width="1.215" />
<text transform="translate(375.30,283.75) scale(1,1.03)" font-size="6.8" text-anchor="end" fill="#000" >0</text>
<line x1="377.80" y1="260.05" x2="381.00" y2="260.05" stroke="#000" stroke-width="1.215" />
<text transform="translate(375.30,262.50) scale(1,1.03)" font-size="6.8" text-anchor="end" fill="#000" >25</text>
<line x1="377.80" y1="238.80" x2="381.00" y2="238.80" stroke="#000" stroke-width="1.215" />
<text transform="translate(375.30,241.25) scale(1,1.03)" font-size="6.8" text-anchor="end" fill="#000" >50</text>
<line x1="377.80" y1="217.55" x2="381.00" y2="217.55" stroke="#000" stroke-width="1.215" />
<text transform="translate(375.30,220.00) scale(1,1.03)" font-size="6.8" text-anchor="end" fill="#000" >75</text>
<line x1="377.80" y1="196.30" x2="381.00" y2="196.30" stroke="#000" stroke-width="1.215" />
<text transform="translate(375.30,198.75) scale(1,1.03)" font-size="6.8" text-anchor="end" fill="#000" >100</text>
<line x1="380.40" y1="281.60" x2="511.70" y2="281.60" stroke="#000" stroke-width="1.35" />
<line x1="398.00" y1="198.70" x2="443.70" y2="198.70" stroke="#000" stroke-width="1.15" />
<circle cx="416.60" cy="193.80" r="1.15" fill="#1a1a1a"/>
<circle cx="420.50" cy="193.80" r="1.15" fill="#1a1a1a"/>
<circle cx="424.40" cy="193.80" r="1.15" fill="#1a1a1a"/>
<line x1="418.70" y1="211.20" x2="443.70" y2="211.20" stroke="#000" stroke-width="1.15" />
<circle cx="427.30" cy="206.30" r="1.15" fill="#1a1a1a"/>
<circle cx="431.20" cy="206.30" r="1.15" fill="#1a1a1a"/>
<circle cx="435.10" cy="206.30" r="1.15" fill="#1a1a1a"/>
<text transform="translate(341.40,238.10) rotate(-90) scale(1,1.03)" x="0" y="3.19" font-size="8.85" text-anchor="middle" fill="#000">Mouse DAF<tspan font-size="5" dy="-3">-/-</tspan><tspan dy="3">Crry</tspan><tspan font-size="5" dy="-3">-/-</tspan><tspan dy="3">C3</tspan><tspan font-size="5" dy="-3">-/-</tspan></text>
<text transform="translate(353.90,237.80) rotate(-90) scale(1,1.03)" x="0" y="3.04" font-size="8.45" text-anchor="middle" fill="#000">RBC lysis (%)</text>
<text transform="translate(398.10,293.98) scale(1,1.03)" font-size="6.9" text-anchor="middle">FH<tspan font-size="4.28" dy="-3.11" letter-spacing="0.35">W/W</tspan></text>
<text transform="translate(422.30,293.98) scale(1,1.03)" font-size="6.9" text-anchor="middle">FH<tspan font-size="4.28" dy="-3.11" letter-spacing="0.35">W/R</tspan></text>
<text transform="translate(445.90,293.98) scale(1,1.03)" font-size="6.9" text-anchor="middle">FH<tspan font-size="4.28" dy="-3.11" letter-spacing="0.35">R/R</tspan></text>
<text x="467.8" y="294.18" font-size="6.9" text-anchor="middle">H<tspan font-size="4.2" dy="1.6">2</tspan><tspan dy="-1.6">O</tspan></text>
<text transform="translate(493.70,294.18) scale(1,1.03)" font-size="6.9" text-anchor="middle" fill="#000" >Buffer</text>
<circle cx="392.20" cy="255.40" r="1.6" fill="#fff" stroke="#b3173f" stroke-width="1.1"/>
<circle cx="397.50" cy="255.90" r="1.6" fill="#fff" stroke="#b3173f" stroke-width="1.1"/>
<circle cx="399.90" cy="257.80" r="1.6" fill="#fff" stroke="#b3173f" stroke-width="1.1"/>
<circle cx="402.80" cy="252.00" r="1.6" fill="#fff" stroke="#b3173f" stroke-width="1.1"/>
<circle cx="392.20" cy="260.20" r="1.6" fill="#fff" stroke="#b3173f" stroke-width="1.1"/>
<circle cx="397.50" cy="262.30" r="1.6" fill="#fff" stroke="#b3173f" stroke-width="1.1"/>
<circle cx="402.80" cy="261.90" r="1.6" fill="#fff" stroke="#b3173f" stroke-width="1.1"/>
<line x1="389.30" y1="258.30" x2="405.70" y2="258.30" stroke="#000" stroke-width="1.2" />
<path d="M421.30 246.95L423.05 248.70L421.30 250.45L419.55 248.70Z" fill="#fff" stroke="#2f4a85" stroke-width="1.1"/>
<path d="M416.30 251.75L418.05 253.50L416.30 255.25L414.55 253.50Z" fill="#fff" stroke="#2f4a85" stroke-width="1.1"/>
<path d="M421.30 254.55L423.05 256.30L421.30 258.05L419.55 256.30Z" fill="#fff" stroke="#2f4a85" stroke-width="1.1"/>
<path d="M421.30 262.75L423.05 264.50L421.30 266.25L419.55 264.50Z" fill="#fff" stroke="#2f4a85" stroke-width="1.1"/>
<line x1="413.00" y1="255.40" x2="429.40" y2="255.40" stroke="#000" stroke-width="1.2" />
<circle cx="440.50" cy="221.20" r="1.75" fill="#5c9a3e"/>
<circle cx="445.50" cy="223.00" r="1.75" fill="#5c9a3e"/>
<circle cx="440.00" cy="229.50" r="1.75" fill="#5c9a3e"/>
<circle cx="451.20" cy="232.00" r="1.75" fill="#5c9a3e"/>
<circle cx="445.50" cy="235.00" r="1.75" fill="#5c9a3e"/>
<line x1="437.00" y1="228.00" x2="454.50" y2="228.00" stroke="#000" stroke-width="1.2" />
<line x1="461.20" y1="196.30" x2="477.50" y2="196.30" stroke="#000" stroke-width="1.2" />
<path d="M469.50 194.90L471.20 197.88L467.80 197.88Z" fill="#fff" stroke="#3a3040" stroke-width="0.9" stroke-linejoin="miter"/>
<line x1="485.20" y1="272.20" x2="501.90" y2="272.20" stroke="#000" stroke-width="1.2" />
<path d="M493.80 270.70L495.30 272.20L493.80 273.70L492.30 272.20Z" fill="#fff" stroke="#e0a050" stroke-width="0.9"/>
<line x1="44.00" y1="341.00" x2="44.00" y2="421.30" stroke="#000" stroke-width="1.35" />
<line x1="40.80" y1="420.70" x2="44.00" y2="420.70" stroke="#000" stroke-width="1.215" />
<text transform="translate(36.50,423.15) scale(1,1.03)" font-size="6.8" text-anchor="end" fill="#000" >10</text>
<line x1="40.80" y1="401.62" x2="44.00" y2="401.62" stroke="#000" stroke-width="1.215" />
<text transform="translate(36.50,404.07) scale(1,1.03)" font-size="6.8" text-anchor="end" fill="#000" >15</text>
<line x1="40.80" y1="382.55" x2="44.00" y2="382.55" stroke="#000" stroke-width="1.215" />
<text transform="translate(36.50,385.00) scale(1,1.03)" font-size="6.8" text-anchor="end" fill="#000" >20</text>
<line x1="40.80" y1="363.47" x2="44.00" y2="363.47" stroke="#000" stroke-width="1.215" />
<text transform="translate(36.50,365.92) scale(1,1.03)" font-size="6.8" text-anchor="end" fill="#000" >25</text>
<line x1="40.80" y1="344.40" x2="44.00" y2="344.40" stroke="#000" stroke-width="1.215" />
<text transform="translate(36.50,346.85) scale(1,1.03)" font-size="6.8" text-anchor="end" fill="#000" >30</text>
<line x1="43.40" y1="420.60" x2="172.60" y2="420.60" stroke="#000" stroke-width="1.35" />
<line x1="44.20" y1="420.70" x2="44.20" y2="423.20" stroke="#000" stroke-width="1.35" />
<line x1="59.91" y1="420.70" x2="59.91" y2="423.20" stroke="#000" stroke-width="1.35" />
<line x1="75.62" y1="420.70" x2="75.62" y2="423.20" stroke="#000" stroke-width="1.35" />
<line x1="91.34" y1="420.70" x2="91.34" y2="423.20" stroke="#000" stroke-width="1.35" />
<line x1="107.05" y1="420.70" x2="107.05" y2="423.20" stroke="#000" stroke-width="1.35" />
<line x1="122.76" y1="420.70" x2="122.76" y2="423.20" stroke="#000" stroke-width="1.35" />
<line x1="138.47" y1="420.70" x2="138.47" y2="423.20" stroke="#000" stroke-width="1.35" />
<line x1="154.18" y1="420.70" x2="154.18" y2="423.20" stroke="#000" stroke-width="1.35" />
<line x1="169.90" y1="420.70" x2="169.90" y2="423.20" stroke="#000" stroke-width="1.35" />
<text transform="translate(52.06,433.68) scale(1,1.03)" font-size="6.6" text-anchor="middle" fill="#000" >4</text>
<text transform="translate(67.77,433.68) scale(1,1.03)" font-size="6.6" text-anchor="middle" fill="#000" >6</text>
<text transform="translate(83.48,433.68) scale(1,1.03)" font-size="6.6" text-anchor="middle" fill="#000" >8</text>
<text transform="translate(99.19,433.68) scale(1,1.03)" font-size="6.6" text-anchor="middle" fill="#000" >10</text>
<text transform="translate(114.90,433.68) scale(1,1.03)" font-size="6.6" text-anchor="middle" fill="#000" >12</text>
<text transform="translate(130.62,433.68) scale(1,1.03)" font-size="6.6" text-anchor="middle" fill="#000" >14</text>
<text transform="translate(146.33,433.68) scale(1,1.03)" font-size="6.6" text-anchor="middle" fill="#000" >16</text>
<text transform="translate(162.04,433.68) scale(1,1.03)" font-size="6.6" text-anchor="middle" fill="#000" >18</text>
<text transform="translate(108.10,446.52) scale(1,1.03)" font-size="8.4" text-anchor="middle" fill="#000" >(Weeks of age)</text>
<text transform="translate(19.80,380.60) rotate(-90) scale(1,1.03)" x="0" y="3.13" font-size="8.7" text-anchor="middle" fill="#000">Body weight (g)</text>
<line x1="52.06" y1="404.90" x2="52.06" y2="398.10" stroke="#8fae80" stroke-width="1.0" />
<line x1="50.06" y1="398.10" x2="54.06" y2="398.10" stroke="#8fae80" stroke-width="1.0" />
<line x1="67.77" y1="399.20" x2="67.77" y2="392.50" stroke="#8fae80" stroke-width="1.0" />
<line x1="65.77" y1="392.50" x2="69.77" y2="392.50" stroke="#8fae80" stroke-width="1.0" />
<line x1="83.48" y1="391.10" x2="83.48" y2="383.10" stroke="#8fae80" stroke-width="1.0" />
<line x1="81.48" y1="383.10" x2="85.48" y2="383.10" stroke="#8fae80" stroke-width="1.0" />
<line x1="99.19" y1="388.70" x2="99.19" y2="378.00" stroke="#8fae80" stroke-width="1.0" />
<line x1="97.19" y1="378.00" x2="101.19" y2="378.00" stroke="#8fae80" stroke-width="1.0" />
<line x1="114.90" y1="385.50" x2="114.90" y2="375.00" stroke="#8fae80" stroke-width="1.0" />
<line x1="112.90" y1="375.00" x2="116.90" y2="375.00" stroke="#8fae80" stroke-width="1.0" />
<line x1="130.62" y1="384.50" x2="130.62" y2="377.00" stroke="#8fae80" stroke-width="1.0" />
<line x1="128.62" y1="377.00" x2="132.62" y2="377.00" stroke="#8fae80" stroke-width="1.0" />
<line x1="146.33" y1="382.50" x2="146.33" y2="375.00" stroke="#8fae80" stroke-width="1.0" />
<line x1="144.33" y1="375.00" x2="148.33" y2="375.00" stroke="#8fae80" stroke-width="1.0" />
<line x1="162.04" y1="384.50" x2="162.04" y2="375.50" stroke="#8fae80" stroke-width="1.0" />
<line x1="160.04" y1="375.50" x2="164.04" y2="375.50" stroke="#8fae80" stroke-width="1.0" />
<line x1="52.06" y1="390.90" x2="52.06" y2="385.00" stroke="#3a4a70" stroke-width="1.0" />
<line x1="50.06" y1="385.00" x2="54.06" y2="385.00" stroke="#3a4a70" stroke-width="1.0" />
<line x1="52.06" y1="388.20" x2="52.06" y2="383.30" stroke="#7a2a44" stroke-width="1.0" />
<line x1="50.06" y1="383.30" x2="54.06" y2="383.30" stroke="#7a2a44" stroke-width="1.0" />
<line x1="67.77" y1="383.70" x2="67.77" y2="375.00" stroke="#3a4a70" stroke-width="1.0" />
<line x1="65.77" y1="375.00" x2="69.77" y2="375.00" stroke="#3a4a70" stroke-width="1.0" />
<line x1="67.77" y1="380.40" x2="67.77" y2="369.90" stroke="#7a2a44" stroke-width="1.0" />
<line x1="65.77" y1="369.90" x2="69.77" y2="369.90" stroke="#7a2a44" stroke-width="1.0" />
<line x1="83.48" y1="379.30" x2="83.48" y2="372.00" stroke="#3a4a70" stroke-width="1.0" />
<line x1="81.48" y1="372.00" x2="85.48" y2="372.00" stroke="#3a4a70" stroke-width="1.0" />
<line x1="83.48" y1="375.30" x2="83.48" y2="367.60" stroke="#7a2a44" stroke-width="1.0" />
<line x1="81.48" y1="367.60" x2="85.48" y2="367.60" stroke="#7a2a44" stroke-width="1.0" />
<line x1="99.19" y1="373.00" x2="99.19" y2="366.00" stroke="#3a4a70" stroke-width="1.0" />
<line x1="97.19" y1="366.00" x2="101.19" y2="366.00" stroke="#3a4a70" stroke-width="1.0" />
<line x1="99.19" y1="372.00" x2="99.19" y2="364.50" stroke="#7a2a44" stroke-width="1.0" />
<line x1="97.19" y1="364.50" x2="101.19" y2="364.50" stroke="#7a2a44" stroke-width="1.0" />
<line x1="114.90" y1="370.50" x2="114.90" y2="362.00" stroke="#3a4a70" stroke-width="1.0" />
<line x1="112.90" y1="362.00" x2="116.90" y2="362.00" stroke="#3a4a70" stroke-width="1.0" />
<line x1="114.90" y1="370.50" x2="114.90" y2="362.00" stroke="#7a2a44" stroke-width="1.0" />
<line x1="112.90" y1="362.00" x2="116.90" y2="362.00" stroke="#7a2a44" stroke-width="1.0" />
<line x1="130.62" y1="370.50" x2="130.62" y2="362.00" stroke="#3a4a70" stroke-width="1.0" />
<line x1="128.62" y1="362.00" x2="132.62" y2="362.00" stroke="#3a4a70" stroke-width="1.0" />
<line x1="130.62" y1="368.00" x2="130.62" y2="358.70" stroke="#7a2a44" stroke-width="1.0" />
<line x1="128.62" y1="358.70" x2="132.62" y2="358.70" stroke="#7a2a44" stroke-width="1.0" />
<line x1="146.33" y1="369.50" x2="146.33" y2="360.00" stroke="#3a4a70" stroke-width="1.0" />
<line x1="144.33" y1="360.00" x2="148.33" y2="360.00" stroke="#3a4a70" stroke-width="1.0" />
<line x1="146.33" y1="368.00" x2="146.33" y2="355.50" stroke="#7a2a44" stroke-width="1.0" />
<line x1="144.33" y1="355.50" x2="148.33" y2="355.50" stroke="#7a2a44" stroke-width="1.0" />
<line x1="162.04" y1="363.70" x2="162.04" y2="352.00" stroke="#3a4a70" stroke-width="1.0" />
<line x1="160.04" y1="352.00" x2="164.04" y2="352.00" stroke="#3a4a70" stroke-width="1.0" />
<line x1="162.04" y1="366.20" x2="162.04" y2="353.00" stroke="#7a2a44" stroke-width="1.0" />
<line x1="160.04" y1="353.00" x2="164.04" y2="353.00" stroke="#7a2a44" stroke-width="1.0" />
<polyline fill="none" stroke="#62a845" stroke-width="2" points="52.06,404.90 67.77,399.20 83.48,391.10 99.19,388.70 114.90,385.50 130.62,384.50 146.33,382.50 162.04,384.50"/>
<polyline fill="none" stroke="#263e74" stroke-width="1.8" points="52.06,390.90 67.77,383.70 83.48,379.30 99.19,373.00 114.90,370.50 130.62,370.50 146.33,369.50 162.04,363.70"/>
<polyline fill="none" stroke="#a11d45" stroke-width="1.8" points="52.06,388.20 67.77,380.40 83.48,375.30 99.19,372.00 114.90,370.50 130.62,368.00 146.33,368.00 162.04,366.20"/>
<circle cx="52.06" cy="404.90" r="3.3" fill="#62a845"/>
<circle cx="52.06" cy="388.20" r="2.8" fill="#fff" stroke="#a11d45" stroke-width="1.3"/>
<path d="M52.06 387.70L55.26 393.30L48.86 393.30Z" fill="#eef3ff" stroke="#263e74" stroke-width="1.3" stroke-linejoin="miter"/>
<circle cx="50.11" cy="411.30" r="1.15" fill="#1a1a1a"/>
<circle cx="54.01" cy="411.30" r="1.15" fill="#1a1a1a"/>
<circle cx="67.77" cy="399.20" r="3.3" fill="#62a845"/>
<circle cx="67.77" cy="380.40" r="2.8" fill="#fff" stroke="#a11d45" stroke-width="1.3"/>
<path d="M67.77 380.50L70.97 386.10L64.57 386.10Z" fill="#eef3ff" stroke="#263e74" stroke-width="1.3" stroke-linejoin="miter"/>
<circle cx="65.82" cy="406.20" r="1.15" fill="#1a1a1a"/>
<circle cx="69.72" cy="406.20" r="1.15" fill="#1a1a1a"/>
<circle cx="83.48" cy="391.10" r="3.3" fill="#62a845"/>
<circle cx="83.48" cy="375.30" r="2.8" fill="#fff" stroke="#a11d45" stroke-width="1.3"/>
<path d="M83.48 376.10L86.68 381.70L80.28 381.70Z" fill="#eef3ff" stroke="#263e74" stroke-width="1.3" stroke-linejoin="miter"/>
<circle cx="81.53" cy="397.20" r="1.15" fill="#1a1a1a"/>
<circle cx="85.43" cy="397.20" r="1.15" fill="#1a1a1a"/>
<circle cx="99.19" cy="388.70" r="3.3" fill="#62a845"/>
<circle cx="99.19" cy="372.00" r="2.8" fill="#fff" stroke="#a11d45" stroke-width="1.3"/>
<path d="M99.19 369.80L102.39 375.40L95.99 375.40Z" fill="#eef3ff" stroke="#263e74" stroke-width="1.3" stroke-linejoin="miter"/>
<circle cx="97.24" cy="395.20" r="1.15" fill="#1a1a1a"/>
<circle cx="101.14" cy="395.20" r="1.15" fill="#1a1a1a"/>
<circle cx="114.90" cy="385.50" r="3.3" fill="#62a845"/>
<circle cx="114.90" cy="370.50" r="2.8" fill="#fff" stroke="#a11d45" stroke-width="1.3"/>
<path d="M114.90 367.30L118.10 372.90L111.70 372.90Z" fill="#eef3ff" stroke="#263e74" stroke-width="1.3" stroke-linejoin="miter"/>
<circle cx="112.95" cy="392.00" r="1.15" fill="#1a1a1a"/>
<circle cx="116.85" cy="392.00" r="1.15" fill="#1a1a1a"/>
<circle cx="130.62" cy="384.50" r="3.3" fill="#62a845"/>
<circle cx="130.62" cy="368.00" r="2.8" fill="#fff" stroke="#a11d45" stroke-width="1.3"/>
<path d="M130.62 367.30L133.82 372.90L127.42 372.90Z" fill="#eef3ff" stroke="#263e74" stroke-width="1.3" stroke-linejoin="miter"/>
<circle cx="128.67" cy="390.00" r="1.15" fill="#1a1a1a"/>
<circle cx="132.57" cy="390.00" r="1.15" fill="#1a1a1a"/>
<circle cx="146.33" cy="382.50" r="3.3" fill="#62a845"/>
<circle cx="146.33" cy="368.00" r="2.8" fill="#fff" stroke="#a11d45" stroke-width="1.3"/>
<path d="M146.33 366.30L149.53 371.90L143.13 371.90Z" fill="#eef3ff" stroke="#263e74" stroke-width="1.3" stroke-linejoin="miter"/>
<circle cx="144.38" cy="387.00" r="1.15" fill="#1a1a1a"/>
<circle cx="148.28" cy="387.00" r="1.15" fill="#1a1a1a"/>
<circle cx="162.04" cy="384.50" r="3.3" fill="#62a845"/>
<circle cx="162.04" cy="366.20" r="2.8" fill="#fff" stroke="#a11d45" stroke-width="1.3"/>
<path d="M162.04 360.50L165.24 366.10L158.84 366.10Z" fill="#eef3ff" stroke="#263e74" stroke-width="1.3" stroke-linejoin="miter"/>
<circle cx="160.09" cy="391.20" r="1.15" fill="#1a1a1a"/>
<circle cx="163.99" cy="391.20" r="1.15" fill="#1a1a1a"/>
<line x1="182.00" y1="368.00" x2="192.80" y2="368.00" stroke="#a11d45" stroke-width="1.6" />
<circle cx="187.30" cy="368.00" r="2.1" fill="#fff" stroke="#a11d45" stroke-width="1.2"/>
<text transform="translate(196.50,370.74) scale(1,1.03)" font-size="7.6" text-anchor="start">FH<tspan font-size="4.71" dy="-3.42" letter-spacing="0.35">W/W</tspan></text>
<line x1="182.00" y1="377.80" x2="192.80" y2="377.80" stroke="#263e74" stroke-width="1.6" />
<path d="M187.30 374.80L190.10 379.70L184.50 379.70Z" fill="#eef3ff" stroke="#263e74" stroke-width="1.2" stroke-linejoin="miter"/>
<text transform="translate(196.50,380.54) scale(1,1.03)" font-size="7.6" text-anchor="start">FH<tspan font-size="4.71" dy="-3.42" letter-spacing="0.35">W/R</tspan></text>
<line x1="182.00" y1="387.50" x2="192.80" y2="387.50" stroke="#62a845" stroke-width="1.6" />
<circle cx="187.30" cy="387.50" r="2.5" fill="#62a845"/>
<text transform="translate(196.50,390.24) scale(1,1.03)" font-size="7.6" text-anchor="start">FH<tspan font-size="4.71" dy="-3.42" letter-spacing="0.35">R/R</tspan></text>
<line x1="267.10" y1="334.30" x2="267.10" y2="421.00" stroke="#000" stroke-width="1.35" />
<line x1="263.90" y1="420.40" x2="267.10" y2="420.40" stroke="#000" stroke-width="1.215" />
<text transform="translate(260.60,422.85) scale(1,1.03)" font-size="6.8" text-anchor="end" fill="#000" >0</text>
<line x1="263.90" y1="403.86" x2="267.10" y2="403.86" stroke="#000" stroke-width="1.215" />
<text transform="translate(260.60,406.31) scale(1,1.03)" font-size="6.8" text-anchor="end" fill="#000" >20</text>
<line x1="263.90" y1="387.32" x2="267.10" y2="387.32" stroke="#000" stroke-width="1.215" />
<text transform="translate(260.60,389.77) scale(1,1.03)" font-size="6.8" text-anchor="end" fill="#000" >40</text>
<line x1="263.90" y1="370.78" x2="267.10" y2="370.78" stroke="#000" stroke-width="1.215" />
<text transform="translate(260.60,373.23) scale(1,1.03)" font-size="6.8" text-anchor="end" fill="#000" >60</text>
<line x1="263.90" y1="354.24" x2="267.10" y2="354.24" stroke="#000" stroke-width="1.215" />
<text transform="translate(260.60,356.69) scale(1,1.03)" font-size="6.8" text-anchor="end" fill="#000" >80</text>
<line x1="263.90" y1="337.70" x2="267.10" y2="337.70" stroke="#000" stroke-width="1.215" />
<text transform="translate(260.60,340.15) scale(1,1.03)" font-size="6.8" text-anchor="end" fill="#000" >100</text>
<line x1="266.40" y1="420.50" x2="394.60" y2="420.50" stroke="#000" stroke-width="1.35" />
<line x1="266.90" y1="420.40" x2="266.90" y2="422.70" stroke="#000" stroke-width="1.35" />
<text transform="translate(266.90,432.38) scale(1,1.03)" font-size="6.6" text-anchor="middle" fill="#000" >0</text>
<line x1="287.62" y1="420.40" x2="287.62" y2="422.70" stroke="#000" stroke-width="1.35" />
<text transform="translate(287.62,432.38) scale(1,1.03)" font-size="6.6" text-anchor="middle" fill="#000" >5</text>
<line x1="308.33" y1="420.40" x2="308.33" y2="422.70" stroke="#000" stroke-width="1.35" />
<text transform="translate(308.33,432.38) scale(1,1.03)" font-size="6.6" text-anchor="middle" fill="#000" >10</text>
<line x1="329.05" y1="420.40" x2="329.05" y2="422.70" stroke="#000" stroke-width="1.35" />
<text transform="translate(329.05,432.38) scale(1,1.03)" font-size="6.6" text-anchor="middle" fill="#000" >15</text>
<line x1="349.77" y1="420.40" x2="349.77" y2="422.70" stroke="#000" stroke-width="1.35" />
<text transform="translate(349.77,432.38) scale(1,1.03)" font-size="6.6" text-anchor="middle" fill="#000" >20</text>
<line x1="370.48" y1="420.40" x2="370.48" y2="422.70" stroke="#000" stroke-width="1.35" />
<text transform="translate(370.48,432.38) scale(1,1.03)" font-size="6.6" text-anchor="middle" fill="#000" >25</text>
<line x1="391.20" y1="420.40" x2="391.20" y2="422.70" stroke="#000" stroke-width="1.35" />
<text transform="translate(391.20,432.38) scale(1,1.03)" font-size="6.6" text-anchor="middle" fill="#000" >30</text>
<text transform="translate(330.70,444.88) scale(1,1.03)" font-size="8.0" text-anchor="middle" fill="#000" >(Weeks of age)</text>
<text transform="translate(239.20,376.00) rotate(-90) scale(1,1.03)" x="0" y="3.24" font-size="9" text-anchor="middle" fill="#000">Survival rate (%)</text>
<line x1="266.90" y1="337.90" x2="391.70" y2="337.90" stroke="#33487e" stroke-width="1.1" />
<polyline fill="none" stroke="#74ad55" stroke-width="1.1" points="266.80,337.90 279.10,337.90 279.10,339.50 287.10,339.50 287.10,341.90 290.80,341.90 290.80,345.90 296.30,345.90 296.30,354.20 300.00,354.20 300.00,359.50 304.60,359.50 304.60,361.30 309.20,361.30 309.20,363.50 327.70,363.50 327.70,366.50 333.80,366.50 333.80,368.10 340.00,368.10 340.00,369.60 347.70,369.60 347.70,371.80 352.30,371.80 352.30,374.20 355.40,374.20 355.40,375.20 370.80,375.20 370.80,375.80 380.00,375.80 380.00,376.50 391.70,376.70"/>
<text transform="translate(399.80,338.27) scale(1,1.03)" font-size="7.7" text-anchor="start">FH<tspan font-size="4.24" dy="-3.47" letter-spacing="0.35">W/W</tspan></text>
<text transform="translate(399.80,347.57) scale(1,1.03)" font-size="7.7" text-anchor="start">FH<tspan font-size="4.24" dy="-3.47" letter-spacing="0.35">W/R</tspan></text>
<text transform="translate(399.80,379.07) scale(1,1.03)" font-size="7.7" text-anchor="start">FH<tspan font-size="4.24" dy="-3.47" letter-spacing="0.35">R/R</tspan></text>
<circle cx="370.60" cy="369.80" r="1.15" fill="#1a1a1a"/>
<circle cx="374.50" cy="369.80" r="1.15" fill="#1a1a1a"/>
<circle cx="378.40" cy="369.80" r="1.15" fill="#1a1a1a"/>
<line x1="43.70" y1="494.00" x2="43.70" y2="590.60" stroke="#000" stroke-width="1.35" />
<line x1="40.50" y1="590.10" x2="43.70" y2="590.10" stroke="#000" stroke-width="1.215" />
<text transform="translate(37.20,592.55) scale(1,1.03)" font-size="6.8" text-anchor="end" fill="#000" >0</text>
<line x1="40.50" y1="559.30" x2="43.70" y2="559.30" stroke="#000" stroke-width="1.215" />
<text transform="translate(37.20,561.75) scale(1,1.03)" font-size="6.8" text-anchor="end" fill="#000" >5</text>
<line x1="40.50" y1="528.50" x2="43.70" y2="528.50" stroke="#000" stroke-width="1.215" />
<text transform="translate(37.20,530.95) scale(1,1.03)" font-size="6.8" text-anchor="end" fill="#000" >10</text>
<line x1="40.50" y1="497.70" x2="43.70" y2="497.70" stroke="#000" stroke-width="1.215" />
<text transform="translate(37.20,500.15) scale(1,1.03)" font-size="6.8" text-anchor="end" fill="#000" >15</text>
<line x1="43.10" y1="590.20" x2="185.00" y2="590.20" stroke="#000" stroke-width="1.35" />
<text transform="translate(114.30,476.38) scale(1,1.03)" font-size="9.4" text-anchor="middle" fill="#000" >Platelet</text>
<line x1="71.20" y1="501.50" x2="159.60" y2="501.50" stroke="#000" stroke-width="1.15" />
<circle cx="110.70" cy="496.60" r="1.15" fill="#1a1a1a"/>
<circle cx="114.60" cy="496.60" r="1.15" fill="#1a1a1a"/>
<circle cx="118.50" cy="496.60" r="1.15" fill="#1a1a1a"/>
<line x1="115.70" y1="516.30" x2="160.00" y2="516.30" stroke="#000" stroke-width="1.15" />
<circle cx="133.80" cy="511.40" r="1.15" fill="#1a1a1a"/>
<circle cx="137.70" cy="511.40" r="1.15" fill="#1a1a1a"/>
<circle cx="141.60" cy="511.40" r="1.15" fill="#1a1a1a"/>
<text transform="translate(19.40,542.40) rotate(-90) scale(1,1.03)" x="0" y="3.33" font-size="9.25" text-anchor="middle" fill="#000">(x10<tspan font-size="5" dy="-3">5</tspan><tspan dy="3"> /μl)</tspan></text>
<text transform="translate(73.00,601.48) scale(1,1.03)" font-size="6.9" text-anchor="middle">FH<tspan font-size="4.28" dy="-3.11" letter-spacing="0.35">W/W</tspan></text>
<text transform="translate(113.40,601.48) scale(1,1.03)" font-size="6.9" text-anchor="middle">FH<tspan font-size="4.28" dy="-3.11" letter-spacing="0.35">W/R</tspan></text>
<text transform="translate(156.70,601.48) scale(1,1.03)" font-size="6.9" text-anchor="middle">FH<tspan font-size="4.28" dy="-3.11" letter-spacing="0.35">R/R</tspan></text>
<circle cx="71.80" cy="516.90" r="1.6" fill="#fff" stroke="#b3173f" stroke-width="1.05"/>
<circle cx="77.90" cy="516.10" r="1.6" fill="#fff" stroke="#b3173f" stroke-width="1.05"/>
<circle cx="65.80" cy="529.00" r="1.6" fill="#fff" stroke="#b3173f" stroke-width="1.05"/>
<circle cx="71.80" cy="529.30" r="1.6" fill="#fff" stroke="#b3173f" stroke-width="1.05"/>
<circle cx="65.80" cy="540.90" r="1.6" fill="#fff" stroke="#b3173f" stroke-width="1.05"/>
<circle cx="71.80" cy="543.40" r="1.6" fill="#fff" stroke="#b3173f" stroke-width="1.05"/>
<circle cx="77.60" cy="541.70" r="1.6" fill="#fff" stroke="#b3173f" stroke-width="1.05"/>
<line x1="58.20" y1="530.90" x2="86.50" y2="530.90" stroke="#000" stroke-width="1.2" />
<path d="M102.90 526.25L104.85 528.20L102.90 530.15L100.95 528.20Z" fill="#fff" stroke="#2f4a85" stroke-width="1.05"/>
<path d="M108.80 530.25L110.75 532.20L108.80 534.15L106.85 532.20Z" fill="#fff" stroke="#2f4a85" stroke-width="1.05"/>
<path d="M114.30 530.85L116.25 532.80L114.30 534.75L112.35 532.80Z" fill="#fff" stroke="#2f4a85" stroke-width="1.05"/>
<path d="M119.90 530.05L121.85 532.00L119.90 533.95L117.95 532.00Z" fill="#fff" stroke="#2f4a85" stroke-width="1.05"/>
<path d="M125.80 529.25L127.75 531.20L125.80 533.15L123.85 531.20Z" fill="#fff" stroke="#2f4a85" stroke-width="1.05"/>
<path d="M114.30 538.75L116.25 540.70L114.30 542.65L112.35 540.70Z" fill="#fff" stroke="#2f4a85" stroke-width="1.05"/>
<path d="M125.80 539.85L127.75 541.80L125.80 543.75L123.85 541.80Z" fill="#fff" stroke="#2f4a85" stroke-width="1.05"/>
<path d="M108.80 543.65L110.75 545.60L108.80 547.55L106.85 545.60Z" fill="#fff" stroke="#2f4a85" stroke-width="1.05"/>
<path d="M114.30 544.55L116.25 546.50L114.30 548.45L112.35 546.50Z" fill="#fff" stroke="#2f4a85" stroke-width="1.05"/>
<path d="M119.90 544.25L121.85 546.20L119.90 548.15L117.95 546.20Z" fill="#fff" stroke="#2f4a85" stroke-width="1.05"/>
<line x1="100.30" y1="537.70" x2="127.90" y2="537.70" stroke="#000" stroke-width="1.2" />
<circle cx="157.00" cy="553.90" r="1.8" fill="#5c9a3e"/>
<circle cx="162.80" cy="553.10" r="1.8" fill="#5c9a3e"/>
<circle cx="151.30" cy="558.80" r="1.8" fill="#5c9a3e"/>
<circle cx="162.80" cy="558.50" r="1.8" fill="#5c9a3e"/>
<circle cx="157.00" cy="561.40" r="1.8" fill="#5c9a3e"/>
<circle cx="156.70" cy="579.40" r="1.8" fill="#5c9a3e"/>
<circle cx="162.80" cy="577.70" r="1.8" fill="#5c9a3e"/>
<line x1="143.00" y1="563.40" x2="170.80" y2="563.40" stroke="#000" stroke-width="1.2" />
<line x1="266.90" y1="494.00" x2="266.90" y2="590.60" stroke="#000" stroke-width="1.35" />
<line x1="263.70" y1="590.10" x2="266.90" y2="590.10" stroke="#000" stroke-width="1.215" />
<text transform="translate(260.10,592.55) scale(1,1.03)" font-size="6.8" text-anchor="end" fill="#000" >0</text>
<line x1="263.70" y1="559.30" x2="266.90" y2="559.30" stroke="#000" stroke-width="1.215" />
<text transform="translate(260.10,561.75) scale(1,1.03)" font-size="6.8" text-anchor="end" fill="#000" >5</text>
<line x1="263.70" y1="528.50" x2="266.90" y2="528.50" stroke="#000" stroke-width="1.215" />
<text transform="translate(260.10,530.95) scale(1,1.03)" font-size="6.8" text-anchor="end" fill="#000" >10</text>
<line x1="263.70" y1="497.70" x2="266.90" y2="497.70" stroke="#000" stroke-width="1.215" />
<text transform="translate(260.10,500.15) scale(1,1.03)" font-size="6.8" text-anchor="end" fill="#000" >15</text>
<line x1="266.30" y1="590.20" x2="408.30" y2="590.20" stroke="#000" stroke-width="1.35" />
<text transform="translate(338.00,476.38) scale(1,1.03)" font-size="9.4" text-anchor="middle" fill="#000" >Hb</text>
<line x1="292.30" y1="489.60" x2="379.60" y2="489.60" stroke="#000" stroke-width="1.15" />
<circle cx="331.50" cy="484.70" r="1.15" fill="#1a1a1a"/>
<circle cx="335.40" cy="484.70" r="1.15" fill="#1a1a1a"/>
<circle cx="339.30" cy="484.70" r="1.15" fill="#1a1a1a"/>
<line x1="336.20" y1="503.90" x2="379.60" y2="503.90" stroke="#000" stroke-width="1.15" />
<circle cx="353.80" cy="499.00" r="1.15" fill="#1a1a1a"/>
<circle cx="357.70" cy="499.00" r="1.15" fill="#1a1a1a"/>
<circle cx="361.60" cy="499.00" r="1.15" fill="#1a1a1a"/>
<text transform="translate(243.00,541.30) rotate(-90) scale(1,1.03)" x="0" y="3.26" font-size="9.05" text-anchor="middle" fill="#000">(g/dl)</text>
<text transform="translate(296.20,602.68) scale(1,1.03)" font-size="6.9" text-anchor="middle">FH<tspan font-size="4.28" dy="-3.11" letter-spacing="0.35">W/W</tspan></text>
<text transform="translate(337.70,602.68) scale(1,1.03)" font-size="6.9" text-anchor="middle">FH<tspan font-size="4.28" dy="-3.11" letter-spacing="0.35">W/R</tspan></text>
<text transform="translate(379.60,602.68) scale(1,1.03)" font-size="6.9" text-anchor="middle">FH<tspan font-size="4.28" dy="-3.11" letter-spacing="0.35">R/R</tspan></text>
<circle cx="283.20" cy="514.20" r="1.5" fill="#fff" stroke="#b3173f" stroke-width="1.1"/>
<circle cx="287.30" cy="514.70" r="1.5" fill="#fff" stroke="#b3173f" stroke-width="1.1"/>
<circle cx="290.00" cy="513.40" r="1.5" fill="#fff" stroke="#b3173f" stroke-width="1.1"/>
<circle cx="292.70" cy="515.40" r="1.5" fill="#fff" stroke="#b3173f" stroke-width="1.1"/>
<circle cx="294.80" cy="512.70" r="1.5" fill="#fff" stroke="#b3173f" stroke-width="1.1"/>
<circle cx="297.20" cy="515.00" r="1.5" fill="#fff" stroke="#b3173f" stroke-width="1.1"/>
<circle cx="300.20" cy="513.70" r="1.5" fill="#fff" stroke="#b3173f" stroke-width="1.1"/>
<circle cx="302.70" cy="515.20" r="1.5" fill="#fff" stroke="#b3173f" stroke-width="1.1"/>
<circle cx="306.50" cy="514.20" r="1.5" fill="#fff" stroke="#b3173f" stroke-width="1.1"/>
<line x1="281.00" y1="514.20" x2="310.20" y2="514.20" stroke="#000" stroke-width="1.2" />
<path d="M325.70 512.25L327.45 514.00L325.70 515.75L323.95 514.00Z" fill="#fff" stroke="#2f4a85" stroke-width="1.1"/>
<path d="M329.70 512.85L331.45 514.60L329.70 516.35L327.95 514.60Z" fill="#fff" stroke="#2f4a85" stroke-width="1.1"/>
<path d="M332.30 511.45L334.05 513.20L332.30 514.95L330.55 513.20Z" fill="#fff" stroke="#2f4a85" stroke-width="1.1"/>
<path d="M335.00 513.25L336.75 515.00L335.00 516.75L333.25 515.00Z" fill="#fff" stroke="#2f4a85" stroke-width="1.1"/>
<path d="M337.70 510.45L339.45 512.20L337.70 513.95L335.95 512.20Z" fill="#fff" stroke="#2f4a85" stroke-width="1.1"/>
<path d="M339.80 513.05L341.55 514.80L339.80 516.55L338.05 514.80Z" fill="#fff" stroke="#2f4a85" stroke-width="1.1"/>
<path d="M342.50 511.65L344.25 513.40L342.50 515.15L340.75 513.40Z" fill="#fff" stroke="#2f4a85" stroke-width="1.1"/>
<path d="M345.80 513.25L347.55 515.00L345.80 516.75L344.05 515.00Z" fill="#fff" stroke="#2f4a85" stroke-width="1.1"/>
<path d="M348.80 512.25L350.55 514.00L348.80 515.75L347.05 514.00Z" fill="#fff" stroke="#2f4a85" stroke-width="1.1"/>
<line x1="323.00" y1="514.00" x2="352.20" y2="514.00" stroke="#000" stroke-width="1.2" />
<circle cx="373.50" cy="530.30" r="1.8" fill="#5c9a3e"/>
<circle cx="379.10" cy="528.50" r="1.8" fill="#5c9a3e"/>
<circle cx="384.90" cy="531.80" r="1.8" fill="#5c9a3e"/>
<circle cx="390.50" cy="529.50" r="1.8" fill="#5c9a3e"/>
<circle cx="379.50" cy="534.40" r="1.8" fill="#5c9a3e"/>
<circle cx="379.20" cy="541.00" r="1.8" fill="#5c9a3e"/>
<circle cx="379.40" cy="555.80" r="1.8" fill="#5c9a3e"/>
<line x1="366.00" y1="536.00" x2="395.10" y2="536.00" stroke="#000" stroke-width="1.2" />
<line x1="43.40" y1="647.30" x2="43.40" y2="731.60" stroke="#000" stroke-width="1.35" />
<line x1="40.20" y1="731.00" x2="43.40" y2="731.00" stroke="#000" stroke-width="1.215" />
<text transform="translate(36.80,733.45) scale(1,1.03)" font-size="6.8" text-anchor="end" fill="#000" >0</text>
<line x1="40.20" y1="719.46" x2="43.40" y2="719.46" stroke="#000" stroke-width="1.215" />
<text transform="translate(36.80,721.91) scale(1,1.03)" font-size="6.8" text-anchor="end" fill="#000" >20</text>
<line x1="40.20" y1="707.91" x2="43.40" y2="707.91" stroke="#000" stroke-width="1.215" />
<text transform="translate(36.80,710.36) scale(1,1.03)" font-size="6.8" text-anchor="end" fill="#000" >40</text>
<line x1="40.20" y1="696.37" x2="43.40" y2="696.37" stroke="#000" stroke-width="1.215" />
<text transform="translate(36.80,698.82) scale(1,1.03)" font-size="6.8" text-anchor="end" fill="#000" >60</text>
<line x1="40.20" y1="684.83" x2="43.40" y2="684.83" stroke="#000" stroke-width="1.215" />
<text transform="translate(36.80,687.28) scale(1,1.03)" font-size="6.8" text-anchor="end" fill="#000" >80</text>
<line x1="40.20" y1="673.29" x2="43.40" y2="673.29" stroke="#000" stroke-width="1.215" />
<text transform="translate(36.80,675.73) scale(1,1.03)" font-size="6.8" text-anchor="end" fill="#000" >100</text>
<line x1="40.20" y1="661.74" x2="43.40" y2="661.74" stroke="#000" stroke-width="1.215" />
<text transform="translate(36.80,664.19) scale(1,1.03)" font-size="6.8" text-anchor="end" fill="#000" >120</text>
<line x1="40.20" y1="650.20" x2="43.40" y2="650.20" stroke="#000" stroke-width="1.215" />
<text transform="translate(36.80,652.65) scale(1,1.03)" font-size="6.8" text-anchor="end" fill="#000" >140</text>
<line x1="42.70" y1="731.20" x2="185.40" y2="731.20" stroke="#000" stroke-width="1.35" />
<line x1="89.60" y1="731.20" x2="89.60" y2="734.00" stroke="#000" stroke-width="1.1" />
<line x1="135.50" y1="731.20" x2="135.50" y2="734.00" stroke="#000" stroke-width="1.1" />
<line x1="181.50" y1="731.20" x2="181.50" y2="734.00" stroke="#000" stroke-width="1.1" />
<text transform="translate(67.30,744.58) scale(1,1.03)" font-size="6.9" text-anchor="middle" fill="#000" >4W</text>
<text transform="translate(111.90,744.58) scale(1,1.03)" font-size="6.9" text-anchor="middle" fill="#000" >12W</text>
<text transform="translate(158.50,744.58) scale(1,1.03)" font-size="6.9" text-anchor="middle" fill="#000" >20W</text>
<text transform="translate(114.60,757.32) scale(1,1.03)" font-size="8.1" text-anchor="middle" fill="#000" >(Weeks of age)</text>
<text transform="translate(16.60,689.00) rotate(-90) scale(1,1.03)" x="0" y="3.02" font-size="8.4" text-anchor="middle" fill="#000">BUN (mg/dl)</text>
<line x1="56.40" y1="721.50" x2="56.40" y2="718.30" stroke="#222" stroke-width="1.2" />
<line x1="54.20" y1="718.30" x2="58.60" y2="718.30" stroke="#222" stroke-width="1.2" />
<rect x="51.30" y="721.50" width="10.20" height="9.50" fill="#b80f3b" />
<line x1="66.65" y1="722.00" x2="66.65" y2="719.70" stroke="#222" stroke-width="1.2" />
<line x1="64.45" y1="719.70" x2="68.85" y2="719.70" stroke="#222" stroke-width="1.2" />
<rect x="61.50" y="722.00" width="10.30" height="9.00" fill="#2c4f8c" />
<line x1="77.40" y1="709.40" x2="77.40" y2="706.50" stroke="#222" stroke-width="1.2" />
<line x1="75.20" y1="706.50" x2="79.60" y2="706.50" stroke="#222" stroke-width="1.2" />
<rect x="72.30" y="709.40" width="10.20" height="21.60" fill="#6aab3e" />
<line x1="102.30" y1="721.50" x2="102.30" y2="719.40" stroke="#222" stroke-width="1.2" />
<line x1="100.10" y1="719.40" x2="104.50" y2="719.40" stroke="#222" stroke-width="1.2" />
<rect x="97.30" y="721.50" width="10.00" height="9.50" fill="#b80f3b" />
<line x1="112.40" y1="723.40" x2="112.40" y2="717.80" stroke="#222" stroke-width="1.2" />
<line x1="110.20" y1="717.80" x2="114.60" y2="717.80" stroke="#222" stroke-width="1.2" />
<rect x="107.30" y="723.40" width="10.20" height="7.60" fill="#2c4f8c" />
<line x1="123.15" y1="701.90" x2="123.15" y2="680.30" stroke="#222" stroke-width="1.2" />
<line x1="120.95" y1="680.30" x2="125.35" y2="680.30" stroke="#222" stroke-width="1.2" />
<rect x="118.00" y="701.90" width="10.30" height="29.10" fill="#6aab3e" />
<line x1="148.65" y1="722.90" x2="148.65" y2="721.20" stroke="#222" stroke-width="1.2" />
<line x1="146.45" y1="721.20" x2="150.85" y2="721.20" stroke="#222" stroke-width="1.2" />
<rect x="143.70" y="722.90" width="9.90" height="8.10" fill="#b80f3b" />
<line x1="158.45" y1="719.70" x2="158.45" y2="718.80" stroke="#222" stroke-width="1.2" />
<line x1="156.25" y1="718.80" x2="160.65" y2="718.80" stroke="#222" stroke-width="1.2" />
<rect x="153.60" y="719.70" width="9.70" height="11.30" fill="#2c4f8c" />
<line x1="169.00" y1="664.20" x2="169.00" y2="654.20" stroke="#222" stroke-width="1.2" />
<line x1="166.80" y1="654.20" x2="171.20" y2="654.20" stroke="#222" stroke-width="1.2" />
<rect x="163.90" y="664.20" width="10.20" height="66.80" fill="#6aab3e" />
<line x1="56.70" y1="694.60" x2="77.20" y2="694.60" stroke="#000" stroke-width="1.15" />
<circle cx="67.00" cy="689.70" r="1.15" fill="#1a1a1a"/>
<line x1="67.50" y1="703.20" x2="77.20" y2="703.20" stroke="#000" stroke-width="1.15" />
<circle cx="72.30" cy="698.30" r="1.15" fill="#1a1a1a"/>
<line x1="102.50" y1="667.20" x2="123.50" y2="667.20" stroke="#000" stroke-width="1.15" />
<circle cx="110.75" cy="662.30" r="1.15" fill="#1a1a1a"/>
<circle cx="114.65" cy="662.30" r="1.15" fill="#1a1a1a"/>
<line x1="112.70" y1="677.70" x2="123.50" y2="677.70" stroke="#000" stroke-width="1.15" />
<circle cx="116.05" cy="672.80" r="1.15" fill="#1a1a1a"/>
<circle cx="119.95" cy="672.80" r="1.15" fill="#1a1a1a"/>
<line x1="149.00" y1="642.10" x2="170.60" y2="642.10" stroke="#000" stroke-width="1.15" />
<circle cx="154.60" cy="637.20" r="1.15" fill="#1a1a1a"/>
<circle cx="158.50" cy="637.20" r="1.15" fill="#1a1a1a"/>
<circle cx="162.40" cy="637.20" r="1.15" fill="#1a1a1a"/>
<line x1="159.00" y1="650.20" x2="170.60" y2="650.20" stroke="#000" stroke-width="1.15" />
<circle cx="162.45" cy="645.30" r="1.15" fill="#1a1a1a"/>
<circle cx="166.35" cy="645.30" r="1.15" fill="#1a1a1a"/>
<line x1="266.80" y1="650.40" x2="266.80" y2="731.00" stroke="#000" stroke-width="1.35" />
<line x1="263.60" y1="730.40" x2="266.80" y2="730.40" stroke="#000" stroke-width="1.215" />
<text transform="translate(259.80,732.85) scale(1,1.03)" font-size="6.8" text-anchor="end" fill="#000" >0</text>
<line x1="263.60" y1="711.08" x2="266.80" y2="711.08" stroke="#000" stroke-width="1.215" />
<text transform="translate(259.80,713.52) scale(1,1.03)" font-size="6.8" text-anchor="end" fill="#000" >0.2</text>
<line x1="263.60" y1="691.75" x2="266.80" y2="691.75" stroke="#000" stroke-width="1.215" />
<text transform="translate(259.80,694.20) scale(1,1.03)" font-size="6.8" text-anchor="end" fill="#000" >0.4</text>
<line x1="263.60" y1="672.42" x2="266.80" y2="672.42" stroke="#000" stroke-width="1.215" />
<text transform="translate(259.80,674.87) scale(1,1.03)" font-size="6.8" text-anchor="end" fill="#000" >0.6</text>
<line x1="263.60" y1="653.10" x2="266.80" y2="653.10" stroke="#000" stroke-width="1.215" />
<text transform="translate(259.80,655.55) scale(1,1.03)" font-size="6.8" text-anchor="end" fill="#000" >0.8</text>
<line x1="266.40" y1="730.80" x2="413.50" y2="730.80" stroke="#000" stroke-width="1.35" />
<line x1="314.60" y1="730.80" x2="314.60" y2="733.60" stroke="#000" stroke-width="1.1" />
<line x1="362.50" y1="730.80" x2="362.50" y2="733.60" stroke="#000" stroke-width="1.1" />
<line x1="410.30" y1="730.80" x2="410.30" y2="733.60" stroke="#000" stroke-width="1.1" />
<text transform="translate(290.70,744.58) scale(1,1.03)" font-size="6.9" text-anchor="middle" fill="#000" >4W</text>
<text transform="translate(339.00,744.58) scale(1,1.03)" font-size="6.9" text-anchor="middle" fill="#000" >12W</text>
<text transform="translate(384.40,744.58) scale(1,1.03)" font-size="6.9" text-anchor="middle" fill="#000" >20W</text>
<text transform="translate(337.90,757.32) scale(1,1.03)" font-size="8.1" text-anchor="middle" fill="#000" >(Weeks of age)</text>
<text transform="translate(240.80,690.20) rotate(-90) scale(1,1.03)" x="0" y="3.11" font-size="8.65" text-anchor="middle" fill="#000">Cr (mg/dl)</text>
<line x1="281.00" y1="705.40" x2="281.00" y2="697.00" stroke="#222" stroke-width="1.2" />
<line x1="278.80" y1="697.00" x2="283.20" y2="697.00" stroke="#222" stroke-width="1.2" />
<rect x="275.80" y="705.40" width="10.40" height="25.20" fill="#b80f3b" />
<line x1="291.20" y1="710.80" x2="291.20" y2="710.30" stroke="#222" stroke-width="1.2" />
<line x1="289.00" y1="710.30" x2="293.40" y2="710.30" stroke="#222" stroke-width="1.2" />
<rect x="286.20" y="710.80" width="10.00" height="19.80" fill="#2c4f8c" />
<line x1="301.35" y1="688.80" x2="301.35" y2="659.20" stroke="#222" stroke-width="1.2" />
<line x1="299.15" y1="659.20" x2="303.55" y2="659.20" stroke="#222" stroke-width="1.2" />
<rect x="296.20" y="688.80" width="10.30" height="41.80" fill="#6aab3e" />
<line x1="328.25" y1="696.50" x2="328.25" y2="693.50" stroke="#222" stroke-width="1.2" />
<line x1="326.05" y1="693.50" x2="330.45" y2="693.50" stroke="#222" stroke-width="1.2" />
<rect x="323.00" y="696.50" width="10.50" height="34.10" fill="#b80f3b" />
<line x1="338.65" y1="704.20" x2="338.65" y2="703.80" stroke="#222" stroke-width="1.2" />
<line x1="336.45" y1="703.80" x2="340.85" y2="703.80" stroke="#222" stroke-width="1.2" />
<rect x="333.50" y="704.20" width="10.30" height="26.40" fill="#2c4f8c" />
<line x1="349.20" y1="688.50" x2="349.20" y2="688.30" stroke="#222" stroke-width="1.2" />
<line x1="347.00" y1="688.30" x2="351.40" y2="688.30" stroke="#222" stroke-width="1.2" />
<rect x="343.80" y="688.50" width="10.80" height="42.10" fill="#6aab3e" />
<line x1="376.00" y1="694.20" x2="376.00" y2="691.40" stroke="#222" stroke-width="1.2" />
<line x1="373.80" y1="691.40" x2="378.20" y2="691.40" stroke="#222" stroke-width="1.2" />
<rect x="370.80" y="694.20" width="10.40" height="36.40" fill="#b80f3b" />
<line x1="386.35" y1="703.10" x2="386.35" y2="700.30" stroke="#222" stroke-width="1.2" />
<line x1="384.15" y1="700.30" x2="388.55" y2="700.30" stroke="#222" stroke-width="1.2" />
<rect x="381.20" y="703.10" width="10.30" height="27.50" fill="#2c4f8c" />
<line x1="396.70" y1="680.40" x2="396.70" y2="657.30" stroke="#222" stroke-width="1.2" />
<line x1="394.50" y1="657.30" x2="398.90" y2="657.30" stroke="#222" stroke-width="1.2" />
<rect x="391.50" y="680.40" width="10.40" height="50.20" fill="#6aab3e" />
<line x1="280.80" y1="648.50" x2="302.70" y2="648.50" stroke="#000" stroke-width="1.15" />
<text transform="translate(291.20,647.12) scale(1,1.03)" font-size="5.6" text-anchor="middle" fill="#000" >NS</text>
<line x1="291.20" y1="657.00" x2="302.70" y2="657.00" stroke="#000" stroke-width="1.15" />
<text transform="translate(297.00,655.62) scale(1,1.03)" font-size="5.6" text-anchor="middle" fill="#000" >NS</text>
<line x1="327.70" y1="675.40" x2="348.80" y2="675.40" stroke="#000" stroke-width="1.15" />
<text transform="translate(338.50,674.02) scale(1,1.03)" font-size="5.6" text-anchor="middle" fill="#000" >NS</text>
<line x1="339.20" y1="685.00" x2="348.80" y2="685.00" stroke="#000" stroke-width="1.15" />
<text transform="translate(343.80,683.62) scale(1,1.03)" font-size="5.6" text-anchor="middle" fill="#000" >NS</text>
<line x1="374.60" y1="647.70" x2="396.20" y2="647.70" stroke="#000" stroke-width="1.15" />
<text transform="translate(385.40,646.32) scale(1,1.03)" font-size="5.6" text-anchor="middle" fill="#000" >NS</text>
<line x1="385.40" y1="655.40" x2="396.20" y2="655.40" stroke="#000" stroke-width="1.15" />
<text transform="translate(391.20,654.02) scale(1,1.03)" font-size="5.6" text-anchor="middle" fill="#000" >NS</text>
<rect x="420.30" y="674.60" width="7.00" height="7.00" fill="#b80f3b" />
<text transform="translate(430.70,680.55) scale(1,1.03)" font-size="6.8" text-anchor="start">FH<tspan font-size="4.22" dy="-3.06" letter-spacing="0.35">W/W</tspan></text>
<rect x="420.30" y="688.50" width="7.00" height="7.00" fill="#2c4f8c" />
<text transform="translate(430.70,694.45) scale(1,1.03)" font-size="6.8" text-anchor="start">FH<tspan font-size="4.22" dy="-3.06" letter-spacing="0.35">W/R</tspan></text>
<rect x="420.30" y="702.30" width="7.00" height="7.00" fill="#6aab3e" />
<text transform="translate(430.70,708.25) scale(1,1.03)" font-size="6.8" text-anchor="start">FH<tspan font-size="4.22" dy="-3.06" letter-spacing="0.35">R/R</tspan></text>
</g>
</svg>
</body></html>
